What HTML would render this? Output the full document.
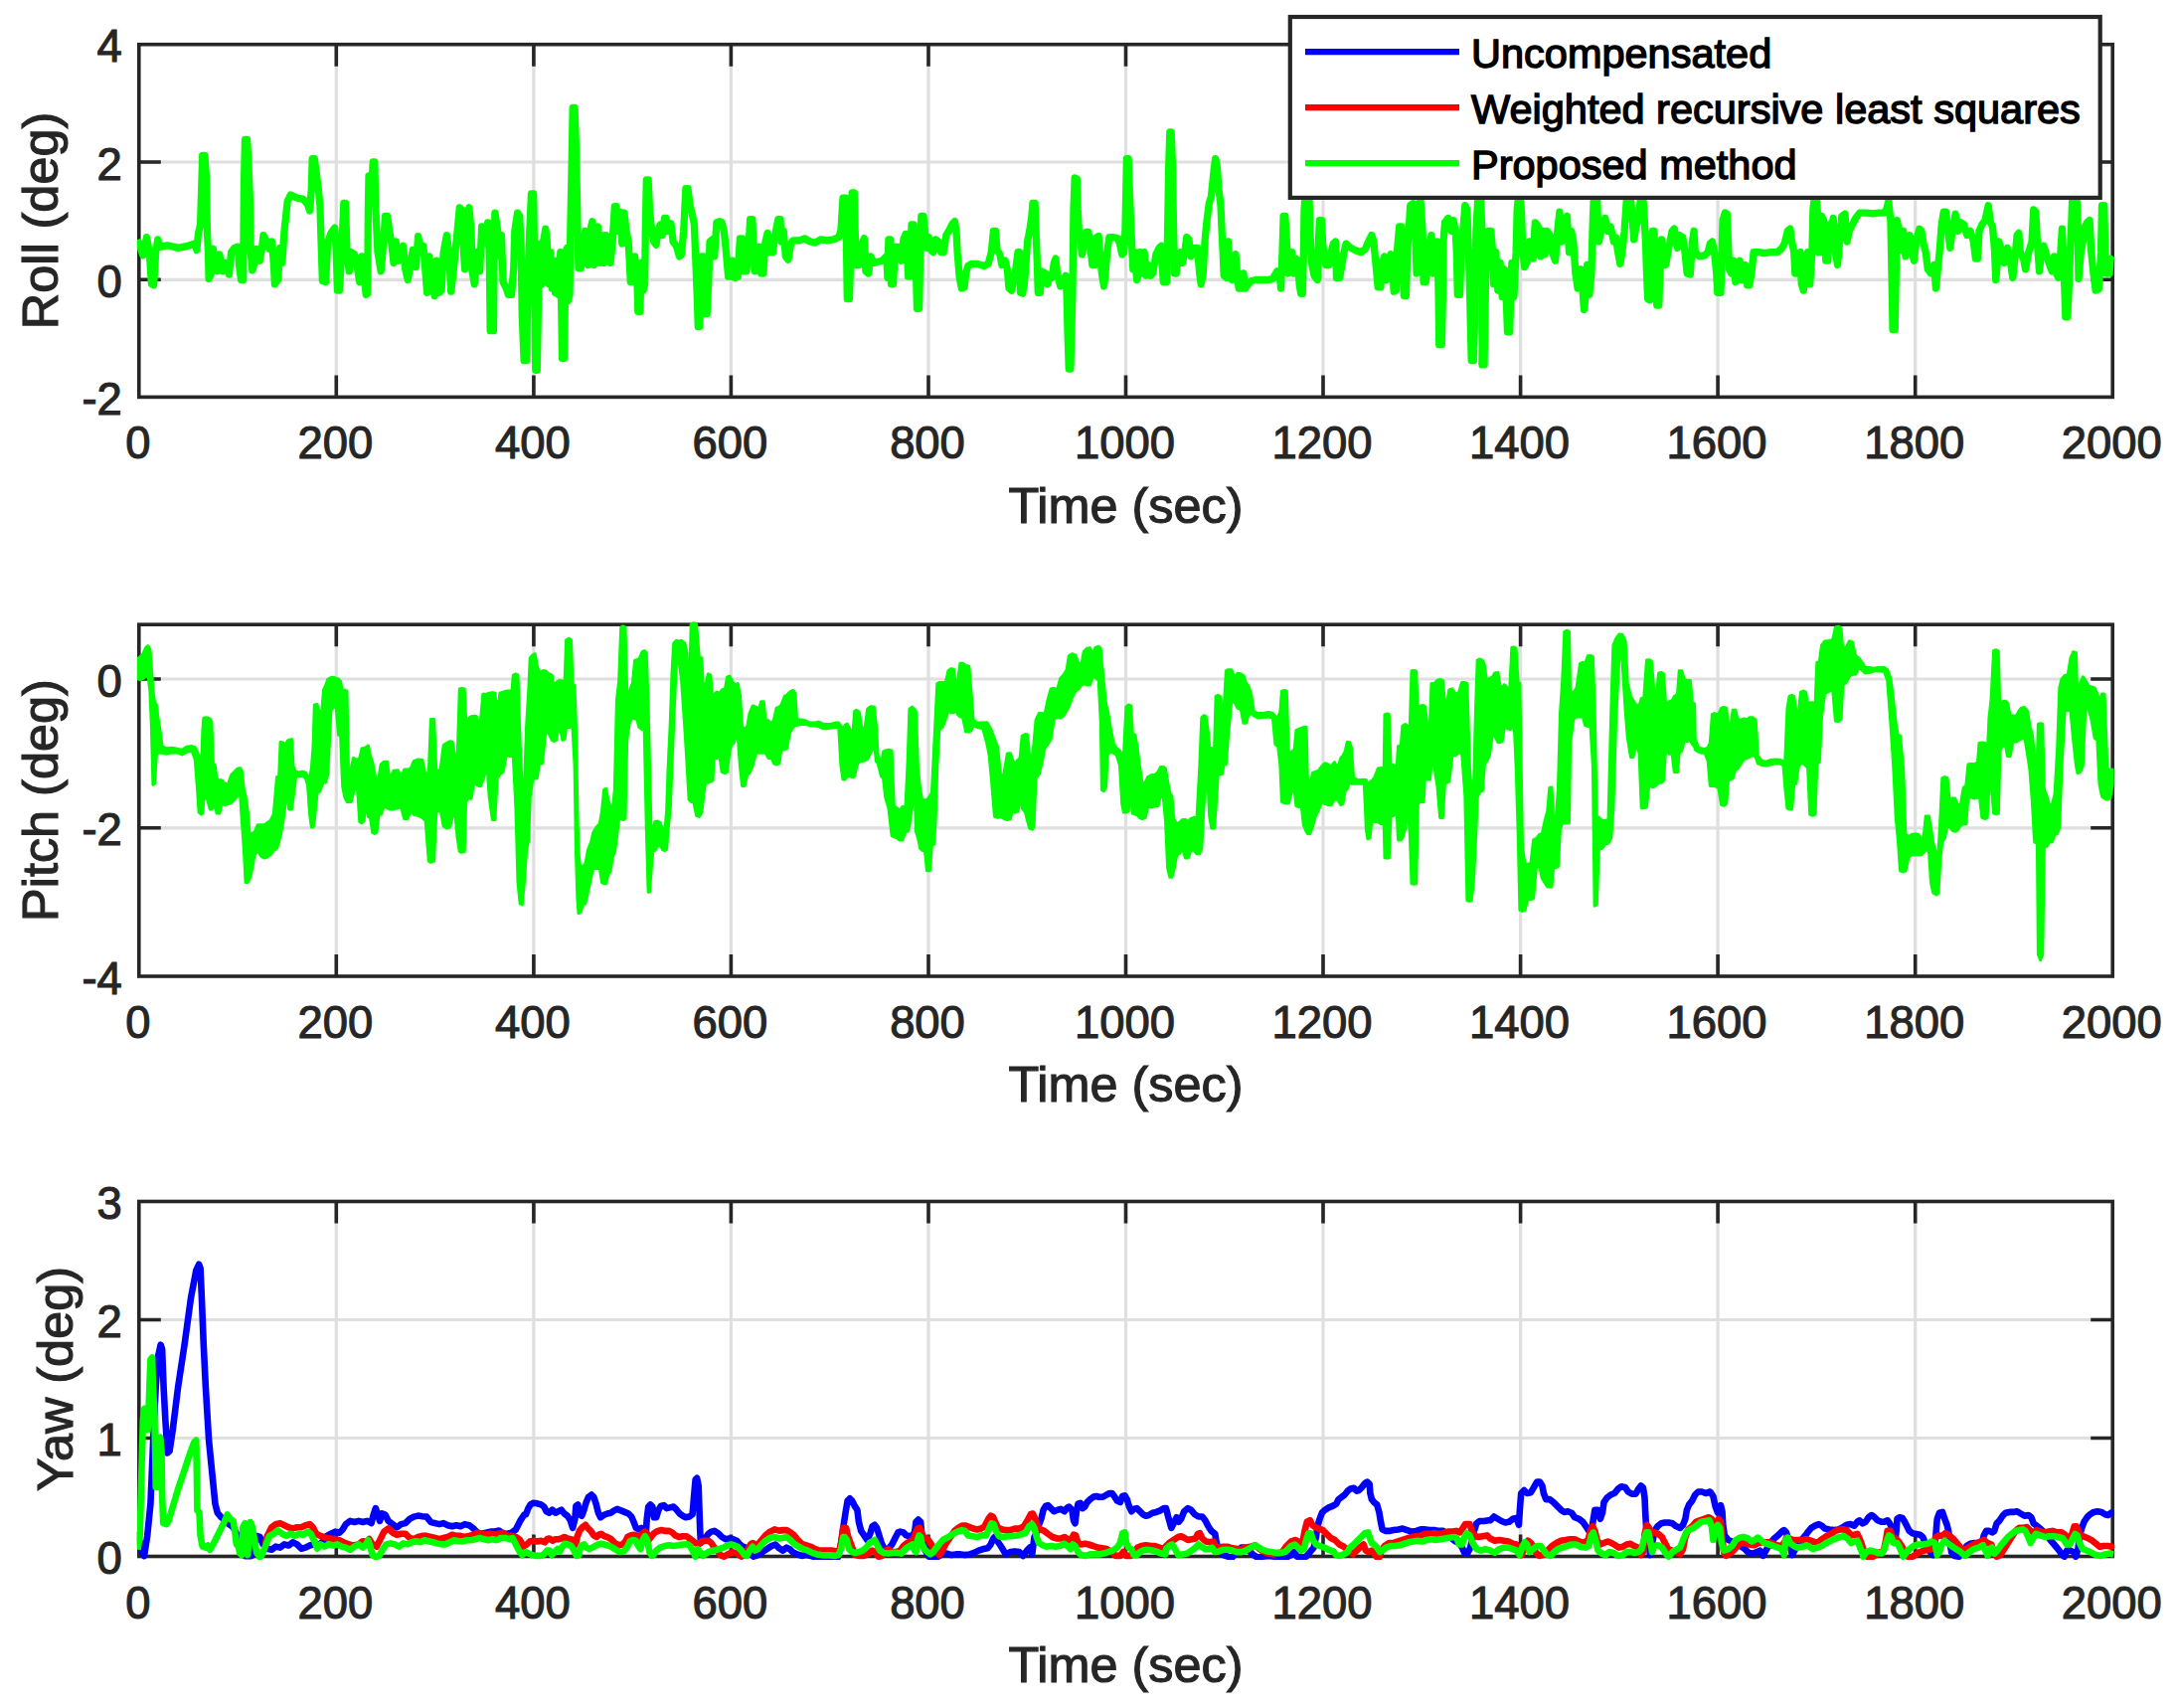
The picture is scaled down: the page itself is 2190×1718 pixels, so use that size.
<!DOCTYPE html><html><head><meta charset="utf-8"><title>Attitude errors</title>
<style>html,body{margin:0;padding:0;background:#fff}svg{display:block}text{font-family:"Liberation Sans",sans-serif;fill:#262626;stroke:#262626;stroke-width:1.1px}.tk{font-size:45.4px}.lb{font-size:50.4px}.lg{font-size:41.5px;fill:#000;stroke:#000;stroke-width:1.4px}</style></head><body>
<svg width="2190" height="1718" viewBox="0 0 2190 1718">
<rect width="2190" height="1718" fill="#fff"/>
<path d="M338.3,44.7 V399.4 M536.9,44.7 V399.4 M735.4,44.7 V399.4 M934.0,44.7 V399.4 M1132.5,44.7 V399.4 M1331.0,44.7 V399.4 M1529.6,44.7 V399.4 M1728.1,44.7 V399.4 M1926.7,44.7 V399.4 M139.8,163.0 H2125.2 M139.8,281.3 H2125.2" stroke="#dfdfdf" stroke-width="3.20" fill="none"/>
<path d="M338.3,399.4 v-22.0 M338.3,44.7 v22.0 M536.9,399.4 v-22.0 M536.9,44.7 v22.0 M735.4,399.4 v-22.0 M735.4,44.7 v22.0 M934.0,399.4 v-22.0 M934.0,44.7 v22.0 M1132.5,399.4 v-22.0 M1132.5,44.7 v22.0 M1331.0,399.4 v-22.0 M1331.0,44.7 v22.0 M1529.6,399.4 v-22.0 M1529.6,44.7 v22.0 M1728.1,399.4 v-22.0 M1728.1,44.7 v22.0 M1926.7,399.4 v-22.0 M1926.7,44.7 v22.0 M139.8,163.0 h22.0 M2125.2,163.0 h-22.0 M139.8,281.3 h22.0 M2125.2,281.3 h-22.0" stroke="#262626" stroke-width="3.60" fill="none"/>
<rect x="139.8" y="44.7" width="1985.4" height="354.7" fill="none" stroke="#262626" stroke-width="3.60"/>
<clipPath id="clip1"><rect x="137.8" y="41.2" width="1989.4" height="361.7"/></clipPath>
<g id="plot1" clip-path="url(#clip1)" fill="none" stroke-width="7.3" stroke-linejoin="round" stroke-linecap="butt">
<path d="M138.5,240.9 L143.9,256.9 L147.5,238.7 L150.3,253.7 L152.4,285.7 L154.6,286.8 L156.7,253.7 L158.8,240.9 L161.0,248.3 L168.5,246.8 L179.1,249.4 L187.7,247.7 L196.2,245.1 L197.9,251.5 L199.4,235.5 L201.6,225.9 L203.7,156.5 L205.9,156.5 L207.4,176.8 L208.4,232.3 L209.5,253.7 L210.1,280.4 L212.3,275.0 L214.4,250.5 L216.5,264.4 L218.7,272.9 L220.8,255.8 L224.0,272.9 L227.2,264.4 L230.4,276.1 L232.6,253.7 L235.8,249.4 L239.0,248.3 L241.1,270.8 L242.6,281.5 L244.7,281.5 L245.4,189.6 L246.5,140.4 L248.6,140.4 L250.1,168.2 L251.4,202.4 L252.2,253.7 L253.9,271.8 L256.1,264.4 L258.2,250.5 L261.4,262.2 L263.5,249.4 L265.0,236.6 L267.8,241.9 L271.0,250.5 L273.6,243.0 L275.3,264.4 L276.4,285.7 L279.6,281.5 L281.7,249.4 L283.8,264.4 L286.0,232.3 L289.2,202.4 L292.4,196.0 L298.8,199.2 L305.2,200.3 L309.5,205.6 L311.6,212.0 L313.3,189.6 L314.2,159.7 L316.3,159.7 L318.0,172.5 L320.2,189.6 L321.9,206.7 L323.4,253.7 L324.4,282.5 L327.6,283.6 L329.8,243.0 L333.0,234.4 L336.8,229.1 L338.3,253.7 L339.4,292.1 L341.5,292.1 L343.7,253.7 L345.8,204.5 L347.5,204.5 L349.0,253.7 L351.2,272.9 L353.3,253.7 L356.5,255.8 L359.7,270.8 L361.8,283.6 L364.0,257.9 L366.1,275.0 L368.2,296.4 L369.7,295.3 L370.4,210.9 L371.0,176.8 L373.6,189.6 L375.3,162.9 L376.8,162.9 L377.9,210.9 L380.0,253.7 L383.2,272.9 L385.3,249.4 L387.5,217.4 L389.6,217.4 L391.8,232.3 L393.9,245.1 L396.0,264.4 L398.2,243.0 L401.4,262.2 L405.6,247.3 L407.8,270.8 L410.3,281.5 L413.1,264.4 L415.3,251.5 L418.5,268.6 L420.6,237.6 L423.8,253.7 L425.9,247.3 L428.1,275.0 L429.6,294.3 L431.7,257.9 L434.5,275.0 L437.1,297.5 L439.2,262.2 L442.0,294.3 L444.1,292.1 L446.2,253.7 L449.4,236.6 L451.6,253.7 L453.7,293.2 L455.9,275.0 L458.0,253.7 L460.1,232.3 L462.3,208.8 L464.4,210.9 L466.5,253.7 L467.6,270.8 L469.7,217.4 L471.9,208.8 L474.0,232.3 L475.1,272.9 L477.2,285.7 L479.4,253.7 L482.6,272.9 L484.7,228.0 L487.9,245.1 L490.7,223.8 L492.2,253.7 L493.2,332.7 L496.5,332.7 L497.1,253.7 L497.9,214.1 L500.7,232.3 L502.9,257.9 L504.4,236.6 L506.1,283.6 L509.3,290.0 L511.4,296.4 L514.6,296.4 L516.8,268.6 L517.8,232.3 L520.6,214.1 L522.7,217.4 L524.2,253.7 L525.3,317.8 L527.1,362.6 L529.6,362.6 L531.1,275.0 L532.8,232.3 L534.5,194.9 L536.7,194.9 L537.5,253.7 L538.2,339.1 L538.8,372.3 L540.3,372.3 L541.4,307.1 L542.4,253.7 L543.5,245.1 L545.2,285.7 L546.7,243.0 L548.8,230.2 L550.3,243.0 L552.1,285.7 L553.8,253.7 L555.3,290.0 L556.8,264.4 L558.5,294.3 L560.2,262.2 L561.7,296.4 L563.8,253.7 L564.9,317.8 L565.5,360.5 L567.4,360.5 L568.3,307.1 L569.1,253.7 L570.4,249.4 L571.3,302.8 L573.0,296.4 L573.8,232.3 L575.1,168.2 L576.2,108.4 L578.1,108.4 L579.4,146.8 L580.3,189.6 L581.1,232.3 L582.0,269.7 L584.1,269.7 L586.2,253.7 L588.8,232.3 L591.6,266.5 L593.7,232.3 L595.9,222.7 L597.4,266.5 L599.5,232.3 L601.6,228.0 L603.3,264.4 L605.5,236.6 L607.6,264.4 L609.7,236.6 L611.9,253.7 L614.0,264.4 L616.2,243.0 L618.3,207.7 L620.0,207.7 L621.5,232.3 L623.6,213.1 L625.8,245.1 L627.9,214.1 L630.0,232.3 L632.2,243.0 L634.3,283.6 L636.5,283.6 L638.6,257.9 L640.7,275.0 L641.8,313.5 L643.9,313.5 L645.0,264.4 L647.1,292.1 L648.6,285.7 L649.3,232.3 L650.3,181.0 L652.1,181.0 L653.5,210.9 L655.7,232.3 L657.8,243.0 L660.0,246.2 L662.1,232.3 L664.2,225.9 L666.4,236.6 L668.5,219.5 L670.0,219.5 L671.7,232.3 L674.9,224.8 L677.1,243.0 L680.3,247.3 L683.5,257.9 L685.6,255.8 L687.7,232.3 L689.9,189.6 L692.0,189.6 L694.1,206.7 L696.3,215.2 L698.4,225.9 L699.5,253.7 L701.2,296.4 L702.3,328.5 L703.8,328.5 L704.8,296.4 L705.9,257.9 L707.6,257.9 L709.1,315.6 L711.2,315.6 L712.7,285.7 L714.0,243.0 L716.6,240.9 L718.7,257.9 L720.9,223.8 L724.1,222.7 L726.2,223.8 L728.3,232.3 L730.5,253.7 L732.6,278.2 L734.7,278.2 L736.9,262.2 L739.0,279.3 L742.2,278.2 L744.4,239.8 L746.5,239.8 L748.6,272.9 L750.8,272.9 L752.9,253.7 L754.6,220.6 L756.8,220.6 L758.2,253.7 L759.3,272.9 L761.5,248.3 L764.7,248.3 L765.7,275.0 L767.9,275.0 L770.0,243.0 L772.1,234.4 L774.3,253.7 L777.5,253.7 L779.6,236.6 L782.8,220.6 L785.0,220.6 L786.0,243.0 L788.2,232.3 L790.3,257.9 L792.9,261.2 L795.6,245.1 L797.8,241.9 L804.2,241.9 L809.5,239.8 L814.9,243.0 L820.2,244.1 L825.6,240.9 L832.0,241.9 L838.4,240.9 L843.7,238.7 L845.9,232.3 L848.0,199.2 L850.8,199.2 L851.6,253.7 L852.3,300.7 L854.4,300.7 L855.9,253.7 L857.2,193.8 L859.3,193.8 L860.2,232.3 L861.5,266.5 L864.0,266.5 L866.2,247.3 L869.4,239.8 L870.9,272.9 L873.6,275.0 L875.8,257.9 L879.0,264.4 L883.2,263.3 L887.5,262.2 L891.8,257.9 L892.9,279.3 L893.9,240.9 L895.6,240.9 L896.5,285.7 L898.6,285.7 L900.3,248.3 L904.6,248.3 L906.8,262.2 L908.9,240.9 L911.0,235.5 L912.7,255.8 L913.6,278.2 L915.7,278.2 L917.0,225.9 L919.1,225.9 L919.3,232.3 L921.0,253.7 L922.5,310.3 L924.6,310.3 L925.7,253.7 L926.8,217.4 L928.9,217.4 L930.4,232.3 L932.1,249.4 L934.2,238.7 L936.4,251.5 L938.9,253.7 L941.1,240.9 L943.8,243.0 L946.6,253.7 L949.2,253.7 L951.8,236.6 L954.5,232.3 L957.7,225.9 L960.3,222.7 L962.0,232.3 L963.1,253.7 L965.2,279.3 L967.4,290.0 L970.1,288.9 L971.6,275.0 L973.8,267.6 L977.0,265.4 L983.4,265.4 L989.8,267.6 L994.1,265.4 L997.3,253.7 L999.4,232.3 L1001.5,232.3 L1003.0,251.5 L1005.8,255.8 L1007.9,266.5 L1011.2,262.2 L1013.3,270.8 L1015.0,290.0 L1017.6,292.1 L1019.7,281.5 L1021.8,270.8 L1024.0,253.7 L1025.5,253.7 L1026.5,294.3 L1028.7,295.3 L1030.4,285.7 L1032.1,264.4 L1033.6,243.0 L1035.7,232.3 L1037.9,217.4 L1038.9,204.5 L1041.1,204.5 L1042.1,232.3 L1043.2,260.1 L1044.3,294.3 L1046.4,294.3 L1047.9,272.9 L1051.8,275.0 L1053.9,285.7 L1056.0,277.2 L1058.2,279.3 L1060.3,264.4 L1062.0,260.1 L1063.5,275.0 L1066.7,287.9 L1069.9,281.5 L1072.1,277.2 L1073.1,296.4 L1074.2,339.1 L1075.3,371.2 L1076.8,371.2 L1077.8,339.1 L1078.9,296.4 L1080.0,210.9 L1081.2,178.9 L1083.4,180.0 L1084.2,210.9 L1085.3,232.3 L1087.0,243.0 L1088.5,255.8 L1090.6,245.1 L1092.8,233.4 L1094.9,233.4 L1096.6,245.1 L1098.8,266.5 L1101.3,266.5 L1103.0,238.7 L1105.2,237.6 L1106.2,253.7 L1108.4,275.0 L1110.5,287.9 L1112.0,275.0 L1113.7,253.7 L1115.9,238.7 L1120.1,238.7 L1124.4,239.8 L1126.5,245.1 L1128.7,255.8 L1130.8,253.7 L1131.9,232.3 L1133.4,159.7 L1135.1,159.7 L1136.2,189.6 L1137.2,215.2 L1138.3,240.9 L1139.8,270.8 L1141.5,253.7 L1143.6,281.5 L1145.8,275.0 L1146.8,253.7 L1149.0,275.0 L1151.1,253.7 L1153.2,277.2 L1155.4,266.5 L1157.5,277.2 L1159.7,275.0 L1162.9,255.8 L1166.1,249.4 L1168.2,247.3 L1170.3,283.6 L1173.5,283.6 L1174.6,232.3 L1175.7,168.2 L1176.8,132.9 L1178.2,132.9 L1179.5,168.2 L1180.6,232.3 L1181.5,275.0 L1183.2,275.0 L1185.3,257.9 L1187.4,253.7 L1189.6,264.4 L1191.7,253.7 L1193.8,238.7 L1196.0,240.9 L1198.1,257.9 L1201.3,249.4 L1204.5,249.4 L1206.7,275.0 L1208.2,285.7 L1210.3,275.0 L1212.0,243.0 L1214.1,221.6 L1216.3,204.5 L1218.4,198.1 L1221.0,172.5 L1222.7,159.7 L1224.4,168.2 L1225.9,189.6 L1228.0,206.7 L1229.1,232.3 L1230.2,253.7 L1231.2,277.2 L1233.8,279.3 L1235.5,243.0 L1237.2,279.3 L1239.4,281.5 L1241.5,260.1 L1243.0,255.8 L1244.5,275.0 L1246.2,290.0 L1249.4,290.0 L1250.9,275.0 L1252.6,290.0 L1255.8,285.7 L1259.0,282.5 L1263.3,281.5 L1269.7,281.5 L1276.1,281.5 L1280.4,280.4 L1284.7,272.9 L1287.2,275.0 L1288.5,290.0 L1290.0,253.7 L1291.1,217.4 L1292.8,217.4 L1294.3,243.0 L1295.8,275.0 L1297.5,253.7 L1299.6,253.7 L1301.8,275.0 L1303.5,260.1 L1305.6,262.2 L1307.1,285.7 L1308.6,295.3 L1310.3,295.3 L1311.4,253.7 L1312.0,210.9 L1313.5,189.6 L1316.8,189.6 L1317.8,232.3 L1319.5,264.4 L1322.1,277.2 L1325.3,281.5 L1326.4,243.0 L1327.4,221.6 L1329.6,221.6 L1330.6,245.1 L1333.8,266.5 L1337.1,266.5 L1339.2,253.7 L1341.3,245.1 L1343.5,243.0 L1344.5,279.3 L1347.7,279.3 L1349.9,266.5 L1352.0,253.7 L1354.1,245.1 L1357.4,248.3 L1362.7,251.5 L1369.1,253.7 L1373.4,250.5 L1376.6,243.0 L1379.8,236.6 L1381.9,243.0 L1384.1,266.5 L1386.2,288.9 L1388.8,288.9 L1390.5,264.4 L1392.6,257.9 L1394.7,281.5 L1396.9,264.4 L1399.0,255.8 L1401.2,275.0 L1402.2,293.2 L1404.4,292.1 L1405.4,253.7 L1407.6,228.0 L1409.7,228.0 L1410.8,253.7 L1412.3,297.5 L1414.4,297.5 L1415.7,253.7 L1417.2,232.3 L1418.7,206.7 L1421.5,204.5 L1423.6,232.3 L1425.1,275.0 L1426.8,206.7 L1428.9,200.3 L1431.1,232.3 L1432.1,283.6 L1434.3,283.6 L1436.4,264.4 L1438.5,243.0 L1440.0,236.6 L1441.8,275.0 L1443.9,253.7 L1446.0,243.0 L1447.1,296.4 L1447.7,346.6 L1450.3,346.6 L1451.4,296.4 L1452.0,243.0 L1453.5,223.8 L1456.7,219.5 L1459.9,232.3 L1462.1,221.6 L1464.2,232.3 L1465.3,253.7 L1466.3,296.4 L1468.5,296.4 L1470.0,253.7 L1471.7,232.3 L1473.8,206.7 L1475.9,210.9 L1477.0,243.0 L1478.1,275.0 L1479.1,317.8 L1480.2,362.6 L1482.4,362.6 L1483.6,317.8 L1484.9,232.3 L1486.6,202.4 L1489.2,189.6 L1490.9,232.3 L1491.5,296.4 L1490.9,366.9 L1493.0,366.9 L1494.1,307.1 L1495.2,253.7 L1497.3,232.3 L1499.9,232.3 L1501.6,253.7 L1502.6,285.7 L1504.8,253.7 L1506.9,292.1 L1509.1,264.4 L1511.2,298.5 L1513.3,270.8 L1515.5,307.1 L1516.5,333.8 L1518.7,333.8 L1519.7,296.4 L1520.8,264.4 L1522.9,298.5 L1525.1,253.7 L1526.2,210.9 L1528.3,189.6 L1530.4,210.9 L1531.9,253.7 L1533.6,268.6 L1536.8,262.2 L1539.0,243.0 L1542.2,260.1 L1544.3,223.8 L1547.5,228.0 L1549.7,257.9 L1551.8,232.3 L1553.9,255.8 L1556.1,232.3 L1559.3,236.6 L1561.4,253.7 L1564.6,262.2 L1566.8,232.3 L1568.9,213.1 L1571.0,243.0 L1573.8,221.6 L1576.4,217.4 L1578.5,253.7 L1580.6,232.3 L1582.8,243.0 L1584.9,275.0 L1587.1,290.0 L1590.3,270.8 L1592.4,296.4 L1593.5,311.4 L1595.2,296.4 L1596.7,266.5 L1598.8,296.4 L1600.9,275.0 L1602.0,232.3 L1603.1,202.4 L1606.3,189.6 L1607.4,221.6 L1608.4,243.0 L1611.6,228.0 L1614.8,219.5 L1617.0,232.3 L1620.2,228.0 L1623.4,243.0 L1625.5,238.7 L1627.6,253.7 L1629.8,265.4 L1631.9,253.7 L1634.1,232.3 L1636.2,202.4 L1639.4,189.6 L1641.5,210.9 L1643.7,240.9 L1645.8,228.0 L1647.9,221.6 L1650.1,202.4 L1652.2,189.6 L1653.7,210.9 L1655.4,243.0 L1656.5,275.0 L1657.6,300.7 L1659.7,301.8 L1660.8,275.0 L1662.3,232.3 L1664.0,232.3 L1665.7,275.0 L1666.8,307.1 L1668.7,307.1 L1670.0,275.0 L1671.5,240.9 L1673.6,253.7 L1675.7,266.5 L1677.9,253.7 L1680.0,243.0 L1682.1,232.3 L1684.3,230.2 L1687.5,249.4 L1689.6,236.6 L1692.8,238.7 L1695.0,253.7 L1697.1,275.0 L1700.3,276.1 L1702.4,243.0 L1704.1,232.3 L1705.3,253.7 L1709.6,257.9 L1715.0,256.9 L1718.2,253.7 L1720.3,245.1 L1722.4,243.0 L1724.6,253.7 L1726.7,275.0 L1727.8,294.3 L1731.0,294.3 L1732.1,253.7 L1733.1,221.6 L1735.3,214.1 L1737.4,215.2 L1738.5,243.0 L1739.5,270.8 L1741.7,275.0 L1743.8,262.2 L1745.9,283.6 L1748.1,266.5 L1750.2,262.2 L1752.4,281.5 L1755.6,266.5 L1757.7,286.8 L1759.8,286.8 L1762.0,275.0 L1764.1,253.7 L1769.4,253.7 L1774.8,254.7 L1781.2,253.7 L1787.6,253.7 L1791.9,250.5 L1795.1,245.1 L1798.3,232.3 L1800.9,230.2 L1802.6,243.0 L1804.7,253.7 L1805.8,275.0 L1809.0,275.0 L1811.1,253.7 L1812.2,285.7 L1814.3,292.1 L1816.5,264.4 L1818.6,253.7 L1820.7,285.7 L1822.9,253.7 L1823.9,210.9 L1826.1,189.6 L1828.2,210.9 L1829.3,253.7 L1831.4,253.7 L1832.5,217.4 L1834.6,221.6 L1836.8,262.2 L1838.9,262.2 L1840.0,225.9 L1842.1,232.3 L1844.2,219.5 L1846.4,253.7 L1848.5,266.5 L1850.6,243.0 L1852.8,217.4 L1856.0,215.2 L1858.1,243.0 L1860.3,232.3 L1863.5,225.9 L1866.7,219.5 L1870.9,214.1 L1877.4,214.1 L1883.8,214.8 L1890.2,214.1 L1895.5,214.1 L1897.6,210.9 L1899.8,202.4 L1901.9,221.6 L1903.0,275.0 L1904.1,331.7 L1906.2,331.7 L1907.3,275.0 L1908.3,221.6 L1910.5,232.3 L1912.6,251.5 L1914.7,232.3 L1916.9,257.9 L1919.0,253.7 L1921.2,236.6 L1923.3,253.7 L1925.4,262.2 L1927.6,243.0 L1930.8,230.2 L1932.9,232.3 L1935.0,245.1 L1937.2,253.7 L1939.3,270.8 L1942.5,275.0 L1945.7,266.5 L1947.4,290.0 L1948.9,275.0 L1951.1,253.7 L1953.2,225.9 L1955.3,213.1 L1957.5,213.1 L1959.6,232.3 L1961.8,249.4 L1963.9,232.3 L1967.1,215.2 L1969.7,232.3 L1972.4,223.8 L1975.6,225.9 L1978.8,236.6 L1982.1,232.3 L1985.3,243.0 L1987.4,260.1 L1989.5,260.1 L1991.0,232.3 L1993.8,225.9 L1997.0,221.6 L2000.2,206.7 L2002.4,223.8 L2004.5,228.0 L2006.6,253.7 L2007.7,281.5 L2009.4,264.4 L2010.9,243.0 L2014.1,253.7 L2016.2,264.4 L2019.4,249.4 L2022.6,264.4 L2024.8,279.3 L2026.9,260.1 L2029.1,236.6 L2030.8,234.4 L2032.3,253.7 L2035.5,260.1 L2037.6,270.8 L2040.8,253.7 L2044.0,243.0 L2045.7,210.9 L2047.9,213.1 L2049.4,243.0 L2051.5,272.9 L2053.6,253.7 L2055.8,247.3 L2057.9,253.7 L2061.1,264.4 L2064.3,272.9 L2066.5,257.9 L2068.6,275.0 L2070.7,279.3 L2072.9,253.7 L2074.4,230.2 L2075.6,253.7 L2077.1,296.4 L2077.8,318.8 L2079.9,318.8 L2081.4,285.7 L2083.5,232.3 L2084.6,202.4 L2087.8,189.6 L2090.0,210.9 L2091.0,280.4 L2093.2,253.7 L2095.3,243.0 L2097.4,228.0 L2099.6,223.8 L2102.1,221.6 L2103.8,253.7 L2106.0,275.0 L2108.1,292.1 L2111.3,291.1 L2113.5,253.7 L2114.5,206.7 L2116.7,206.7 L2117.7,253.7 L2118.8,275.0 L2122.0,275.0 L2123.1,260.1 L2124.8,262.2" stroke="#00ff00"/>
</g>
<text class="tk" x="138.8" y="461.4" text-anchor="middle">0</text>
<text class="tk" x="337.3" y="461.4" text-anchor="middle">200</text>
<text class="tk" x="535.9" y="461.4" text-anchor="middle">400</text>
<text class="tk" x="734.4" y="461.4" text-anchor="middle">600</text>
<text class="tk" x="933.0" y="461.4" text-anchor="middle">800</text>
<text class="tk" x="1131.5" y="461.4" text-anchor="middle">1000</text>
<text class="tk" x="1330.0" y="461.4" text-anchor="middle">1200</text>
<text class="tk" x="1528.6" y="461.4" text-anchor="middle">1400</text>
<text class="tk" x="1727.1" y="461.4" text-anchor="middle">1600</text>
<text class="tk" x="1925.7" y="461.4" text-anchor="middle">1800</text>
<text class="tk" x="2124.2" y="461.4" text-anchor="middle">2000</text>
<text class="tk" x="122.8" y="62.3" text-anchor="end">4</text>
<text class="tk" x="122.8" y="180.6" text-anchor="end">2</text>
<text class="tk" x="122.8" y="298.9" text-anchor="end">0</text>
<text class="tk" x="122.8" y="417.0" text-anchor="end">-2</text>
<text class="lb" x="1132.5" y="525.8" text-anchor="middle">Time (sec)</text>
<text class="lb" transform="translate(58.4,222.0) rotate(-90)" text-anchor="middle">Roll (deg)</text>
<path d="M338.3,628.2 V982.0 M536.9,628.2 V982.0 M735.4,628.2 V982.0 M934.0,628.2 V982.0 M1132.5,628.2 V982.0 M1331.0,628.2 V982.0 M1529.6,628.2 V982.0 M1728.1,628.2 V982.0 M1926.7,628.2 V982.0 M139.8,683.0 H2125.2 M139.8,832.8 H2125.2" stroke="#dfdfdf" stroke-width="3.20" fill="none"/>
<path d="M338.3,982.0 v-22.0 M338.3,628.2 v22.0 M536.9,982.0 v-22.0 M536.9,628.2 v22.0 M735.4,982.0 v-22.0 M735.4,628.2 v22.0 M934.0,982.0 v-22.0 M934.0,628.2 v22.0 M1132.5,982.0 v-22.0 M1132.5,628.2 v22.0 M1331.0,982.0 v-22.0 M1331.0,628.2 v22.0 M1529.6,982.0 v-22.0 M1529.6,628.2 v22.0 M1728.1,982.0 v-22.0 M1728.1,628.2 v22.0 M1926.7,982.0 v-22.0 M1926.7,628.2 v22.0 M139.8,683.0 h22.0 M2125.2,683.0 h-22.0 M139.8,832.8 h22.0 M2125.2,832.8 h-22.0" stroke="#262626" stroke-width="3.60" fill="none"/>
<rect x="139.8" y="628.2" width="1985.4" height="353.8" fill="none" stroke="#262626" stroke-width="3.60"/>
<clipPath id="clip2"><rect x="137.8" y="624.7" width="1989.4" height="360.8"/></clipPath>
<g id="plot2" clip-path="url(#clip2)" fill="none" stroke-width="6.25" stroke-linejoin="round" stroke-linecap="butt">
<path d="M138.1,663.0 L140.7,660.9 L143.9,657.7 L146.7,651.3 L148.8,649.6 L150.9,653.4 L152.4,672.6 L153.9,694.0 L155.6,706.8 L157.4,709.0 L158.8,720.7 L161.0,734.6 L163.1,750.6 L167.4,752.8 L172.7,752.3 L179.1,753.4 L183.4,754.3 L187.7,751.3 L193.0,750.6 L196.2,751.7 L198.4,756.0 L200.1,760.3 L202.6,768.8 L203.9,734.6 L204.8,722.2 L208.0,721.8 L211.2,722.9 L212.9,726.1 L214.4,766.7 L216.5,770.9 L218.0,783.8 L220.8,784.8 L222.9,784.8 L226.2,788.0 L229.4,789.1 L232.6,779.5 L235.8,776.3 L239.0,773.1 L241.5,772.6 L243.2,775.2 L245.4,794.4 L247.1,800.9 L249.2,815.8 L251.8,847.9 L253.9,838.2 L256.1,837.2 L259.3,829.7 L262.5,829.7 L265.7,829.7 L268.9,827.6 L272.1,825.4 L275.3,819.0 L278.5,781.6 L280.6,781.6 L282.1,746.4 L284.9,747.0 L287.1,749.6 L289.2,745.3 L290.7,744.2 L293.5,743.6 L295.0,770.9 L297.7,776.3 L300.9,776.9 L304.1,776.3 L307.4,777.3 L309.5,780.6 L311.6,781.6 L313.3,773.1 L315.0,751.7 L316.3,709.0 L319.1,708.5 L321.9,720.7 L324.0,713.2 L325.5,694.0 L327.6,689.7 L329.8,683.3 L333.0,681.6 L336.2,681.6 L338.3,682.3 L340.5,682.9 L342.6,685.5 L344.7,697.2 L346.9,694.0 L349.0,695.1 L350.5,773.1 L353.3,773.1 L355.4,762.4 L357.6,763.5 L359.7,764.5 L361.8,762.4 L364.0,752.8 L366.1,752.8 L368.2,751.7 L370.4,750.0 L372.5,760.3 L374.7,766.7 L376.8,777.3 L378.9,788.0 L381.1,781.6 L383.2,768.8 L386.4,766.2 L389.6,766.2 L391.8,783.8 L396.0,775.2 L400.3,774.8 L403.5,781.6 L406.7,774.1 L409.9,774.1 L413.1,773.1 L416.3,765.6 L420.6,763.9 L424.9,764.5 L428.1,779.5 L431.3,777.3 L433.4,723.5 L436.6,723.5 L438.8,775.2 L443.0,774.8 L446.2,749.6 L449.4,747.4 L452.6,745.7 L455.2,746.4 L458.0,762.4 L460.1,764.5 L462.3,692.9 L464.4,692.5 L467.2,692.9 L468.7,726.1 L470.8,722.9 L474.0,720.7 L477.2,720.1 L479.4,720.7 L481.5,730.3 L483.6,723.9 L485.8,698.3 L490.0,697.9 L492.2,697.2 L495.4,696.6 L497.9,697.2 L500.1,717.5 L502.9,697.2 L506.1,696.1 L509.3,695.1 L512.5,695.1 L514.6,698.3 L516.3,679.1 L518.9,678.0 L521.0,679.1 L523.2,747.4 L525.3,794.4 L527.4,794.4 L529.6,730.3 L531.8,694.0 L533.2,662.0 L536.0,658.8 L538.2,657.7 L540.3,669.4 L542.4,676.9 L545.6,674.8 L548.8,674.8 L552.1,678.0 L555.3,679.1 L557.4,696.1 L559.5,686.5 L562.7,684.4 L565.9,685.0 L568.1,685.5 L569.6,643.8 L572.4,642.3 L574.5,643.8 L576.0,687.6 L578.1,689.7 L579.4,730.3 L580.9,815.8 L582.0,858.5 L584.1,875.6 L586.2,871.4 L588.8,869.2 L591.6,854.3 L594.4,847.9 L596.9,837.2 L600.1,831.8 L603.3,828.6 L605.5,815.8 L607.6,794.4 L609.7,793.4 L611.9,805.1 L614.0,811.5 L616.2,815.8 L618.3,794.4 L620.4,704.7 L622.6,685.5 L624.7,631.0 L626.8,629.9 L629.0,631.0 L630.7,696.1 L633.2,695.7 L636.5,686.5 L638.6,664.1 L640.7,663.7 L642.9,663.0 L646.1,655.6 L648.2,654.5 L650.3,656.6 L652.1,709.0 L653.5,768.8 L655.0,835.0 L656.8,834.0 L658.9,826.5 L661.5,826.1 L664.2,827.6 L666.4,834.0 L668.9,835.0 L670.6,815.8 L672.1,773.1 L674.3,726.1 L676.0,676.9 L677.7,647.0 L680.3,644.4 L683.5,644.9 L685.6,644.4 L688.8,647.0 L690.9,655.6 L693.1,709.0 L695.2,627.8 L697.8,626.7 L700.6,627.8 L703.3,660.9 L705.9,662.0 L708.0,702.6 L710.2,687.6 L712.3,678.0 L714.9,679.1 L717.0,709.0 L718.7,698.3 L720.9,696.1 L724.1,697.2 L726.2,694.0 L729.4,692.9 L731.5,681.2 L733.7,680.1 L735.8,683.3 L737.9,687.6 L740.1,688.7 L742.2,687.6 L744.4,698.3 L746.5,730.3 L749.1,734.6 L751.8,730.3 L754.0,717.5 L757.2,710.0 L760.4,711.1 L763.6,713.2 L765.7,705.8 L768.3,705.8 L770.0,723.9 L773.2,725.0 L776.4,728.2 L778.5,723.9 L781.1,712.2 L783.9,711.1 L786.0,709.0 L789.2,700.4 L791.4,699.4 L794.6,696.1 L797.8,694.4 L799.9,697.2 L801.6,723.9 L806.3,723.9 L810.6,725.0 L814.9,727.1 L819.1,727.1 L823.4,726.1 L827.7,728.2 L832.0,728.6 L836.2,728.2 L840.5,727.1 L843.7,727.1 L845.9,730.3 L848.0,734.6 L850.1,729.3 L852.3,728.2 L855.5,734.6 L858.0,736.7 L859.7,715.4 L861.9,714.3 L864.4,716.4 L867.2,734.6 L870.4,730.3 L872.6,713.2 L875.8,710.7 L879.4,711.1 L881.5,730.3 L883.2,760.3 L886.5,768.8 L888.6,756.0 L890.7,754.9 L893.9,754.3 L897.1,754.9 L899.3,811.5 L902.5,812.6 L904.6,815.8 L907.8,811.5 L911.0,811.5 L913.2,764.5 L914.9,713.2 L917.4,711.1 L919.6,713.2 L921.4,715.4 L923.5,773.1 L925.7,794.4 L927.8,805.1 L930.4,804.7 L932.5,804.7 L935.3,800.9 L937.4,797.6 L939.6,751.7 L941.1,721.8 L942.8,687.6 L944.9,686.5 L948.1,686.5 L951.3,686.5 L953.9,674.8 L956.7,672.6 L959.4,673.1 L961.6,691.9 L963.7,683.3 L965.9,667.3 L968.4,667.3 L971.6,669.4 L974.8,670.1 L977.0,696.1 L979.1,723.9 L983.4,727.1 L988.7,727.1 L993.0,726.7 L995.1,730.3 L997.3,734.6 L1000.5,743.2 L1003.7,751.7 L1006.9,783.8 L1010.1,777.3 L1013.3,758.1 L1016.5,757.7 L1018.6,764.5 L1020.8,768.8 L1024.0,764.5 L1026.1,762.4 L1028.2,740.0 L1031.5,738.5 L1033.6,738.9 L1035.7,760.3 L1038.5,760.3 L1040.0,747.4 L1042.1,723.9 L1045.3,717.5 L1048.5,717.5 L1050.7,719.7 L1053.9,704.7 L1057.1,692.9 L1060.3,692.3 L1063.5,694.0 L1066.7,682.3 L1069.9,679.1 L1073.1,673.7 L1075.3,659.8 L1078.5,657.7 L1081.7,658.8 L1084.9,667.3 L1088.1,667.3 L1090.2,655.6 L1093.4,652.3 L1096.6,651.7 L1099.2,659.8 L1102.0,651.3 L1105.2,650.2 L1107.3,652.3 L1108.4,666.2 L1110.5,687.6 L1112.6,709.0 L1114.1,713.2 L1116.9,730.3 L1120.1,747.4 L1123.3,752.8 L1126.5,754.9 L1128.7,759.2 L1130.4,760.3 L1132.9,711.1 L1135.1,709.0 L1137.6,710.0 L1139.4,738.9 L1141.9,738.9 L1144.1,751.7 L1146.2,768.8 L1149.0,788.0 L1152.2,787.0 L1154.7,781.6 L1158.6,779.5 L1161.8,779.5 L1165.0,776.3 L1167.6,771.6 L1170.3,771.4 L1172.5,773.1 L1174.6,785.9 L1176.8,797.6 L1178.9,800.9 L1181.0,824.4 L1183.8,828.6 L1186.4,827.6 L1189.6,824.4 L1192.4,824.4 L1195.3,826.5 L1198.1,823.3 L1201.3,822.2 L1203.9,824.4 L1206.7,773.1 L1208.8,721.8 L1210.9,719.7 L1213.1,720.7 L1215.2,734.6 L1216.7,751.7 L1218.8,752.8 L1221.6,752.8 L1223.1,700.4 L1225.3,699.4 L1227.4,700.4 L1229.5,715.4 L1231.2,713.2 L1233.4,674.8 L1235.5,673.7 L1238.7,673.7 L1241.9,681.2 L1245.1,677.3 L1248.3,678.0 L1250.9,679.5 L1253.7,687.6 L1255.8,689.7 L1258.6,698.3 L1261.2,715.4 L1265.4,717.5 L1270.8,717.5 L1276.1,716.4 L1280.4,717.5 L1282.9,720.7 L1285.7,721.8 L1287.9,715.4 L1289.4,695.1 L1292.1,694.4 L1294.3,695.1 L1296.4,760.3 L1299.6,756.0 L1302.2,753.8 L1303.9,734.6 L1306.5,733.5 L1309.2,732.5 L1311.4,731.4 L1314.1,731.4 L1315.3,781.6 L1317.8,792.3 L1320.4,777.3 L1323.2,776.3 L1326.4,775.2 L1329.6,770.9 L1332.8,767.7 L1336.0,768.8 L1339.2,770.9 L1342.4,766.7 L1345.6,773.1 L1348.8,762.4 L1350.9,760.3 L1353.1,756.0 L1355.2,746.4 L1357.4,746.4 L1359.5,751.7 L1361.6,782.7 L1367.0,784.8 L1372.3,784.2 L1374.4,784.8 L1375.9,792.3 L1378.1,785.9 L1379.8,785.9 L1383.0,781.6 L1386.2,773.1 L1389.4,772.6 L1392.2,773.1 L1393.0,718.6 L1395.8,717.9 L1397.3,718.6 L1399.0,768.8 L1402.2,769.9 L1405.0,773.1 L1406.5,750.6 L1409.3,749.6 L1410.8,730.3 L1413.5,728.6 L1416.1,730.3 L1418.2,734.6 L1420.0,674.8 L1422.5,674.4 L1424.7,675.2 L1426.4,717.5 L1428.9,710.0 L1432.1,709.4 L1433.6,711.1 L1435.8,728.2 L1438.5,726.1 L1440.0,687.6 L1442.8,687.6 L1446.0,684.4 L1448.6,683.3 L1451.4,684.4 L1453.5,707.9 L1455.6,706.8 L1457.8,694.0 L1461.0,692.9 L1464.2,698.3 L1467.4,697.2 L1470.6,686.5 L1473.8,686.5 L1475.9,687.6 L1478.5,773.1 L1480.2,794.4 L1482.4,795.5 L1484.5,713.2 L1486.2,664.1 L1488.8,663.0 L1491.3,664.1 L1493.5,669.4 L1495.6,685.5 L1498.4,682.3 L1501.2,681.2 L1503.7,676.9 L1506.9,676.5 L1509.1,689.7 L1511.2,691.9 L1513.3,688.7 L1516.5,691.9 L1518.7,695.1 L1520.8,651.3 L1523.4,650.9 L1525.1,652.3 L1527.2,687.6 L1528.9,687.6 L1531.5,852.1 L1534.1,869.2 L1536.8,869.2 L1540.0,868.2 L1542.6,844.7 L1545.4,843.6 L1548.6,839.3 L1551.2,839.3 L1553.9,826.5 L1556.7,815.8 L1558.8,792.3 L1561.0,791.9 L1562.5,822.2 L1565.3,822.2 L1567.4,794.4 L1569.5,717.5 L1571.7,685.5 L1573.8,635.3 L1576.4,634.2 L1578.5,635.3 L1579.6,696.1 L1582.8,697.2 L1586.0,691.9 L1589.6,667.3 L1592.4,666.2 L1594.5,668.4 L1597.3,659.8 L1599.9,659.4 L1602.4,660.9 L1604.1,709.0 L1606.3,824.4 L1608.4,822.2 L1611.6,825.4 L1614.8,825.4 L1618.0,824.4 L1620.8,713.2 L1622.9,649.1 L1625.5,642.7 L1628.7,638.0 L1631.9,638.5 L1635.1,644.9 L1637.3,687.6 L1640.5,700.4 L1643.0,704.7 L1645.8,709.0 L1649.0,710.0 L1651.2,702.6 L1653.7,702.6 L1656.5,664.1 L1659.3,663.7 L1661.4,665.2 L1664.0,697.2 L1666.5,697.2 L1668.7,676.9 L1671.5,676.5 L1673.6,678.0 L1675.7,709.0 L1678.9,705.8 L1682.1,704.7 L1684.3,700.4 L1687.5,698.3 L1689.2,674.8 L1691.8,674.8 L1694.3,683.3 L1697.1,684.4 L1700.3,684.4 L1702.4,706.8 L1704.6,707.9 L1705.3,743.2 L1708.5,751.7 L1711.8,752.8 L1715.0,753.8 L1718.2,751.7 L1720.3,747.4 L1722.4,718.6 L1724.6,717.5 L1726.7,718.6 L1728.8,718.6 L1731.6,712.2 L1734.2,711.5 L1736.8,712.2 L1738.5,730.3 L1741.0,730.3 L1743.2,714.3 L1745.9,714.3 L1748.1,723.9 L1751.3,723.9 L1754.5,722.9 L1757.7,723.9 L1759.8,721.8 L1763.0,721.8 L1766.2,723.9 L1768.4,760.3 L1772.6,765.6 L1776.9,766.2 L1781.2,764.5 L1786.5,763.9 L1790.8,764.5 L1794.0,765.6 L1795.7,766.7 L1797.9,713.2 L1800.0,700.4 L1802.6,699.4 L1804.7,700.4 L1806.8,715.4 L1809.4,715.4 L1811.5,696.1 L1814.3,695.1 L1816.5,696.1 L1818.6,707.9 L1820.7,706.8 L1823.5,706.8 L1826.1,707.9 L1827.8,666.2 L1830.3,665.8 L1832.5,649.1 L1835.7,644.9 L1840.0,644.4 L1843.6,643.8 L1846.4,631.0 L1849.6,630.3 L1852.1,632.0 L1853.8,653.4 L1857.1,651.3 L1860.3,644.9 L1863.5,645.9 L1866.7,659.8 L1869.9,662.0 L1873.1,666.2 L1876.3,671.6 L1880.6,671.6 L1884.8,672.2 L1890.2,671.6 L1895.5,671.6 L1898.7,673.7 L1901.9,682.3 L1904.7,704.7 L1907.3,728.2 L1909.4,740.0 L1911.5,740.0 L1914.7,773.1 L1916.9,839.3 L1920.1,841.4 L1923.3,839.3 L1926.5,838.9 L1929.7,839.3 L1932.9,843.6 L1935.0,843.6 L1937.2,821.1 L1940.4,821.1 L1942.5,832.9 L1944.7,847.9 L1947.9,858.5 L1950.0,858.5 L1951.7,826.5 L1953.8,782.7 L1956.4,781.6 L1959.0,782.7 L1961.8,811.5 L1963.9,803.0 L1966.7,803.0 L1969.2,809.4 L1972.4,809.4 L1975.2,792.3 L1977.8,790.2 L1979.9,768.8 L1983.1,768.4 L1986.3,768.8 L1989.5,766.7 L1991.0,747.4 L1993.8,747.0 L1997.0,747.4 L1999.1,762.4 L2000.9,722.9 L2003.0,703.6 L2005.6,654.5 L2008.1,653.8 L2010.3,655.1 L2012.0,719.7 L2014.1,705.8 L2017.3,705.3 L2019.4,706.8 L2022.2,719.7 L2024.8,719.7 L2028.0,720.7 L2030.8,715.4 L2033.3,712.2 L2036.5,711.5 L2039.7,715.4 L2041.9,730.3 L2044.4,738.9 L2046.6,760.3 L2049.4,762.4 L2050.4,728.2 L2052.6,727.8 L2054.7,728.2 L2056.4,794.4 L2059.0,800.9 L2061.5,809.4 L2064.3,809.4 L2067.1,798.7 L2069.7,751.7 L2071.8,691.9 L2073.9,683.3 L2077.1,679.5 L2080.3,678.6 L2082.9,662.0 L2085.7,655.6 L2088.5,656.6 L2090.0,709.0 L2092.7,687.6 L2095.3,680.8 L2097.9,684.4 L2100.6,689.7 L2103.8,690.8 L2107.1,691.9 L2109.8,698.3 L2112.0,704.7 L2114.5,697.9 L2117.1,698.3 L2119.9,773.1 L2122.6,774.1 L2125.2,774.1 L2125.2,789.3 L2122.6,803.2 L2119.9,804.3 L2117.1,803.2 L2114.5,801.1 L2112.0,789.3 L2109.8,744.4 L2107.1,742.3 L2103.8,723.1 L2100.6,711.3 L2097.9,710.2 L2095.3,770.1 L2092.7,776.5 L2090.0,777.6 L2088.5,770.1 L2085.7,744.4 L2082.9,714.5 L2080.3,714.5 L2077.1,714.5 L2073.9,774.3 L2071.8,832.0 L2069.7,838.4 L2067.1,839.5 L2064.3,847.0 L2061.5,847.0 L2059.0,851.3 L2056.4,852.3 L2054.7,960.2 L2052.6,965.6 L2050.4,960.2 L2049.4,848.1 L2046.6,847.0 L2044.4,806.4 L2041.9,774.3 L2039.7,759.4 L2036.5,740.2 L2033.3,743.4 L2030.8,744.4 L2028.0,746.1 L2024.8,746.6 L2022.2,760.5 L2019.4,760.5 L2017.3,748.7 L2014.1,750.8 L2012.0,755.1 L2010.3,818.1 L2008.1,818.8 L2005.6,818.1 L2003.0,787.2 L2000.9,791.4 L1999.1,822.4 L1997.0,823.5 L1993.8,822.4 L1991.0,797.9 L1989.5,802.1 L1986.3,803.2 L1983.1,802.1 L1979.9,802.1 L1977.8,828.8 L1975.2,828.8 L1972.4,829.9 L1969.2,835.2 L1966.7,836.3 L1963.9,835.2 L1961.8,832.0 L1959.0,831.0 L1956.4,842.7 L1953.8,847.0 L1951.7,866.2 L1950.0,898.3 L1947.9,900.0 L1944.7,898.3 L1942.5,887.6 L1940.4,855.5 L1937.2,854.5 L1935.0,857.7 L1932.9,859.8 L1929.7,859.4 L1926.5,859.8 L1923.3,859.8 L1920.1,862.0 L1916.9,875.8 L1914.7,876.9 L1911.5,875.8 L1909.4,844.9 L1907.3,823.5 L1904.7,770.1 L1901.9,727.3 L1898.7,684.6 L1895.5,675.6 L1890.2,675.0 L1884.8,675.0 L1880.6,676.5 L1876.3,677.1 L1873.1,673.9 L1869.9,671.8 L1866.7,678.2 L1863.5,678.2 L1860.3,680.3 L1857.1,686.7 L1853.8,688.9 L1852.1,723.1 L1849.6,725.6 L1846.4,725.2 L1843.6,693.1 L1840.0,695.3 L1835.7,697.4 L1832.5,720.9 L1830.3,766.9 L1827.8,767.9 L1826.1,819.2 L1823.5,820.3 L1820.7,819.2 L1818.6,772.2 L1816.5,770.1 L1814.3,767.9 L1811.5,767.9 L1809.4,770.1 L1806.8,788.2 L1804.7,789.3 L1802.6,813.9 L1800.0,813.9 L1797.9,812.8 L1795.7,791.4 L1794.0,770.1 L1790.8,767.9 L1786.5,767.9 L1781.2,769.0 L1776.9,770.1 L1772.6,769.6 L1768.4,767.9 L1766.2,761.5 L1763.0,759.4 L1759.8,761.5 L1757.7,762.6 L1754.5,763.7 L1751.3,767.9 L1748.1,773.3 L1745.9,773.3 L1743.2,782.9 L1741.0,784.0 L1738.5,785.0 L1736.8,808.5 L1734.2,810.2 L1731.6,809.6 L1728.8,792.5 L1726.7,791.4 L1724.6,790.4 L1722.4,790.4 L1720.3,790.4 L1718.2,765.8 L1715.0,757.3 L1711.8,757.3 L1708.5,756.2 L1705.3,754.0 L1704.6,750.8 L1702.4,748.7 L1700.3,744.4 L1697.1,745.5 L1694.3,744.4 L1691.8,755.1 L1689.2,757.3 L1687.5,776.5 L1684.3,776.5 L1682.1,758.3 L1678.9,758.3 L1675.7,753.0 L1673.6,785.0 L1671.5,787.2 L1668.7,787.2 L1666.5,789.3 L1664.0,791.4 L1661.4,791.4 L1659.3,785.0 L1656.5,811.7 L1653.7,812.8 L1651.2,812.8 L1649.0,757.3 L1645.8,748.7 L1643.0,761.5 L1640.5,761.5 L1637.3,742.3 L1635.1,714.5 L1631.9,663.2 L1628.7,663.2 L1625.5,727.3 L1622.9,812.8 L1620.8,842.7 L1618.0,848.1 L1614.8,849.1 L1611.6,853.4 L1608.4,853.4 L1606.3,910.0 L1604.1,911.1 L1602.4,770.1 L1599.9,729.5 L1597.3,730.5 L1594.5,729.5 L1592.4,720.9 L1589.6,720.9 L1586.0,720.9 L1582.8,723.1 L1579.6,748.7 L1578.5,827.8 L1576.4,827.8 L1573.8,827.8 L1571.7,827.8 L1569.5,834.2 L1567.4,871.6 L1565.3,872.6 L1562.5,873.7 L1561.0,891.9 L1558.8,891.9 L1556.7,891.9 L1553.9,887.6 L1551.2,883.3 L1548.6,870.5 L1545.4,872.6 L1542.6,903.6 L1540.0,904.7 L1536.8,904.7 L1534.1,915.4 L1531.5,916.4 L1528.9,915.4 L1527.2,838.4 L1525.1,770.1 L1523.4,732.7 L1520.8,732.7 L1518.7,733.7 L1516.5,732.7 L1513.3,731.6 L1511.2,745.5 L1509.1,746.6 L1506.9,746.6 L1503.7,740.2 L1501.2,740.2 L1498.4,759.4 L1495.6,765.8 L1493.5,767.9 L1491.3,795.7 L1488.8,795.7 L1486.2,802.1 L1484.5,844.9 L1482.4,885.5 L1480.2,905.8 L1478.5,906.4 L1475.9,905.8 L1473.8,800.0 L1470.6,757.3 L1467.4,757.3 L1464.2,759.4 L1461.0,759.4 L1457.8,786.1 L1455.6,787.2 L1453.5,787.2 L1451.4,822.4 L1448.6,822.4 L1446.0,791.4 L1442.8,770.1 L1440.0,767.9 L1438.5,784.0 L1435.8,784.0 L1433.6,778.6 L1432.1,806.4 L1428.9,806.4 L1426.4,808.5 L1424.7,888.7 L1422.5,889.3 L1420.0,888.7 L1418.2,836.3 L1416.1,812.8 L1413.5,834.2 L1410.8,842.7 L1409.3,844.9 L1406.5,844.9 L1405.0,812.8 L1402.2,820.3 L1399.0,821.4 L1397.3,863.0 L1395.8,863.0 L1393.0,863.0 L1392.2,828.8 L1389.4,828.8 L1386.2,826.7 L1383.0,826.7 L1379.8,826.7 L1378.1,842.7 L1375.9,843.8 L1374.4,834.2 L1372.3,788.2 L1367.0,788.2 L1361.6,788.2 L1359.5,788.2 L1357.4,787.2 L1355.2,793.6 L1353.1,795.7 L1350.9,808.5 L1348.8,809.6 L1345.6,804.3 L1342.4,804.3 L1339.2,809.6 L1336.0,809.6 L1332.8,808.5 L1329.6,806.4 L1326.4,814.9 L1323.2,821.4 L1320.4,832.0 L1317.8,838.4 L1315.3,838.4 L1314.1,836.3 L1311.4,829.9 L1309.2,810.7 L1306.5,811.7 L1303.9,810.7 L1302.2,795.7 L1299.6,795.7 L1296.4,807.5 L1294.3,808.1 L1292.1,807.5 L1289.4,806.4 L1287.9,770.1 L1285.7,750.8 L1282.9,748.7 L1280.4,722.0 L1276.1,720.9 L1270.8,721.4 L1265.4,722.0 L1261.2,719.9 L1258.6,717.7 L1255.8,718.8 L1253.7,727.3 L1250.9,727.3 L1248.3,713.4 L1245.1,712.4 L1241.9,706.0 L1238.7,706.0 L1235.5,740.2 L1233.4,769.0 L1231.2,767.9 L1229.5,778.6 L1227.4,778.6 L1225.3,779.7 L1223.1,812.8 L1221.6,833.1 L1218.8,833.1 L1216.7,821.4 L1215.2,789.3 L1213.1,787.2 L1210.9,812.8 L1208.8,853.4 L1206.7,858.7 L1203.9,858.7 L1201.3,855.5 L1198.1,854.5 L1195.3,863.0 L1192.4,863.0 L1189.6,853.4 L1186.4,858.7 L1183.8,859.8 L1181.0,874.8 L1178.9,882.3 L1176.8,882.3 L1174.6,872.6 L1172.5,825.6 L1170.3,802.1 L1167.6,800.0 L1165.0,810.7 L1161.8,810.7 L1158.6,811.7 L1154.7,811.7 L1152.2,822.4 L1149.0,823.5 L1146.2,822.4 L1144.1,819.2 L1141.9,819.2 L1139.4,818.1 L1137.6,795.7 L1135.1,816.0 L1132.9,817.1 L1130.4,817.1 L1128.7,808.5 L1126.5,770.1 L1123.3,759.4 L1120.1,757.3 L1116.9,756.2 L1114.1,759.4 L1112.6,791.4 L1110.5,795.7 L1108.4,794.6 L1107.3,727.3 L1105.2,684.6 L1102.0,681.4 L1099.2,680.3 L1096.6,688.9 L1093.4,688.9 L1090.2,687.8 L1088.1,688.9 L1084.9,693.1 L1081.7,695.3 L1078.5,701.7 L1075.3,710.2 L1073.1,714.5 L1069.9,719.9 L1066.7,722.0 L1063.5,720.9 L1060.3,723.1 L1057.1,743.4 L1053.9,748.7 L1050.7,753.0 L1048.5,765.8 L1045.3,778.6 L1042.1,782.9 L1040.0,832.0 L1038.5,834.2 L1035.7,833.1 L1033.6,825.6 L1031.5,817.1 L1028.2,812.8 L1026.1,800.0 L1024.0,816.0 L1020.8,817.1 L1018.6,812.8 L1016.5,823.5 L1013.3,824.6 L1010.1,823.5 L1006.9,821.4 L1003.7,822.4 L1000.5,821.4 L997.3,782.9 L995.1,759.4 L993.0,748.7 L988.7,732.7 L983.4,731.6 L979.1,729.5 L977.0,734.8 L974.8,735.9 L971.6,735.9 L968.4,720.9 L965.9,720.9 L963.7,718.8 L961.6,714.5 L959.4,716.7 L956.7,716.7 L953.9,714.5 L951.3,723.1 L948.1,731.6 L944.9,733.7 L942.8,770.1 L941.1,825.6 L939.6,849.1 L937.4,850.2 L935.3,875.8 L932.5,875.8 L930.4,855.5 L927.8,855.5 L925.7,853.4 L923.5,842.7 L921.4,836.3 L919.6,770.1 L917.4,812.8 L914.9,829.9 L913.2,836.3 L911.0,836.3 L907.8,844.9 L904.6,844.9 L902.5,842.7 L899.3,841.7 L897.1,840.6 L893.9,812.8 L890.7,802.1 L888.6,782.9 L886.5,780.8 L883.2,767.9 L881.5,765.8 L879.4,748.7 L875.8,757.3 L872.6,763.7 L870.4,764.7 L867.2,765.8 L864.4,765.8 L861.9,770.1 L859.7,780.8 L858.0,781.8 L855.5,780.8 L852.3,780.8 L850.1,784.0 L848.0,784.0 L845.9,770.1 L843.7,731.6 L840.5,731.6 L836.2,732.0 L832.0,732.7 L827.7,732.7 L823.4,730.5 L819.1,729.9 L814.9,729.9 L810.6,728.4 L806.3,728.4 L801.6,729.5 L799.9,729.5 L797.8,731.6 L794.6,737.0 L791.4,753.0 L789.2,754.0 L786.0,753.0 L783.9,767.9 L781.1,769.0 L778.5,767.9 L776.4,762.6 L773.2,762.6 L770.0,757.3 L768.3,757.3 L765.7,757.3 L763.6,757.3 L760.4,757.3 L757.2,770.1 L754.0,777.6 L751.8,778.6 L749.1,790.4 L746.5,790.4 L744.4,770.1 L742.2,740.2 L740.1,742.3 L737.9,747.6 L735.8,748.7 L733.7,757.3 L731.5,776.5 L729.4,777.6 L726.2,776.5 L724.1,761.5 L720.9,762.6 L718.7,753.0 L717.0,785.0 L714.9,786.1 L712.3,787.2 L710.2,785.0 L708.0,797.9 L705.9,817.1 L703.3,821.4 L700.6,820.3 L697.8,806.4 L695.2,806.4 L693.1,804.3 L690.9,765.8 L688.8,731.6 L685.6,684.6 L683.5,667.5 L680.3,667.5 L677.7,727.3 L676.0,770.1 L674.3,812.8 L672.1,834.2 L670.6,854.5 L668.9,855.5 L666.4,854.5 L664.2,849.1 L661.5,851.3 L658.9,855.5 L656.8,855.5 L655.0,876.9 L653.5,897.2 L652.1,897.2 L650.3,834.2 L648.2,733.7 L646.1,733.7 L642.9,731.6 L640.7,723.1 L638.6,723.1 L636.5,720.9 L633.2,727.3 L630.7,744.4 L629.0,823.5 L626.8,824.6 L624.7,823.5 L622.6,823.5 L620.4,842.7 L618.3,857.7 L616.2,862.0 L614.0,876.9 L611.9,879.0 L609.7,888.7 L607.6,888.7 L605.5,887.6 L603.3,872.6 L600.1,873.7 L596.9,872.6 L594.4,883.3 L591.6,896.1 L588.8,909.0 L586.2,910.0 L584.1,917.5 L582.0,918.6 L580.9,904.7 L579.4,855.5 L578.1,770.1 L576.0,731.6 L574.5,731.6 L572.4,731.6 L569.6,731.6 L568.1,743.4 L565.9,744.4 L562.7,729.5 L559.5,744.4 L557.4,745.5 L555.3,744.4 L552.1,738.0 L548.8,735.9 L545.6,767.9 L542.4,767.9 L540.3,782.9 L538.2,782.9 L536.0,782.9 L533.2,802.1 L531.8,844.9 L529.6,855.5 L527.4,887.6 L525.3,910.0 L523.2,909.0 L521.0,887.6 L518.9,812.8 L516.3,760.5 L514.6,760.5 L512.5,760.5 L509.3,759.4 L506.1,776.5 L502.9,778.6 L500.1,782.9 L497.9,824.6 L495.4,824.6 L492.2,802.1 L490.0,770.1 L485.8,785.0 L483.6,790.4 L481.5,790.4 L479.4,789.3 L477.2,785.0 L474.0,803.2 L470.8,803.2 L468.7,806.4 L467.2,856.6 L464.4,857.3 L462.3,856.6 L460.1,842.7 L458.0,819.2 L455.2,821.4 L452.6,832.0 L449.4,833.1 L446.2,831.0 L443.0,813.9 L438.8,817.1 L436.6,866.2 L433.4,867.3 L431.3,866.2 L428.1,825.6 L424.9,822.4 L420.6,820.3 L416.3,819.2 L413.1,816.0 L409.9,823.5 L406.7,823.5 L403.5,811.7 L400.3,812.8 L396.0,813.9 L391.8,813.9 L389.6,812.8 L386.4,810.7 L383.2,819.2 L381.1,819.2 L378.9,837.4 L376.8,838.4 L374.7,837.4 L372.5,822.4 L370.4,821.4 L368.2,806.4 L366.1,825.6 L364.0,827.8 L361.8,826.7 L359.7,795.7 L357.6,789.3 L355.4,797.9 L353.3,806.4 L350.5,806.4 L349.0,806.4 L346.9,802.1 L344.7,791.4 L342.6,740.2 L340.5,739.1 L338.3,712.4 L336.2,710.2 L333.0,714.5 L329.8,778.6 L327.6,787.2 L325.5,787.2 L324.0,789.3 L321.9,795.7 L319.1,797.9 L316.3,825.6 L315.0,832.0 L313.3,832.0 L311.6,819.2 L309.5,789.3 L307.4,782.9 L304.1,780.3 L300.9,780.8 L297.7,780.8 L295.0,802.1 L293.5,813.9 L290.7,813.9 L289.2,797.9 L287.1,808.5 L284.9,825.6 L282.1,840.6 L280.6,847.0 L278.5,853.4 L275.3,855.5 L272.1,859.8 L268.9,862.0 L265.7,863.0 L262.5,860.9 L259.3,855.5 L256.1,859.8 L253.9,872.6 L251.8,882.3 L249.2,887.6 L247.1,887.6 L245.4,855.5 L243.2,823.5 L241.5,797.9 L239.0,800.0 L235.8,804.3 L232.6,807.5 L229.4,808.5 L226.2,809.6 L222.9,808.5 L220.8,818.1 L218.0,818.1 L216.5,808.5 L214.4,812.8 L212.9,813.9 L211.2,813.9 L208.0,802.1 L204.8,804.3 L203.9,818.1 L202.6,819.2 L200.1,817.1 L198.4,791.4 L196.2,763.7 L193.0,755.1 L187.7,756.2 L183.4,759.0 L179.1,757.3 L172.7,756.8 L167.4,758.3 L163.1,757.3 L161.0,757.3 L158.8,757.3 L157.4,759.4 L155.6,788.2 L153.9,789.3 L152.4,731.6 L150.9,695.3 L148.8,678.2 L146.7,680.3 L143.9,682.5 L140.7,683.5 L138.1,682.5 Z" stroke="#00ff00" fill="#00ff00" stroke-width="3"/>
</g>
<text class="tk" x="138.8" y="1044.0" text-anchor="middle">0</text>
<text class="tk" x="337.3" y="1044.0" text-anchor="middle">200</text>
<text class="tk" x="535.9" y="1044.0" text-anchor="middle">400</text>
<text class="tk" x="734.4" y="1044.0" text-anchor="middle">600</text>
<text class="tk" x="933.0" y="1044.0" text-anchor="middle">800</text>
<text class="tk" x="1131.5" y="1044.0" text-anchor="middle">1000</text>
<text class="tk" x="1330.0" y="1044.0" text-anchor="middle">1200</text>
<text class="tk" x="1528.6" y="1044.0" text-anchor="middle">1400</text>
<text class="tk" x="1727.1" y="1044.0" text-anchor="middle">1600</text>
<text class="tk" x="1925.7" y="1044.0" text-anchor="middle">1800</text>
<text class="tk" x="2124.2" y="1044.0" text-anchor="middle">2000</text>
<text class="tk" x="122.8" y="700.6" text-anchor="end">0</text>
<text class="tk" x="122.8" y="850.4" text-anchor="end">-2</text>
<text class="tk" x="122.8" y="999.6" text-anchor="end">-4</text>
<text class="lb" x="1132.5" y="1108.4" text-anchor="middle">Time (sec)</text>
<text class="lb" transform="translate(58.4,805.1) rotate(-90)" text-anchor="middle">Pitch (deg)</text>
<path d="M338.3,1208.5 V1565.5 M536.9,1208.5 V1565.5 M735.4,1208.5 V1565.5 M934.0,1208.5 V1565.5 M1132.5,1208.5 V1565.5 M1331.0,1208.5 V1565.5 M1529.6,1208.5 V1565.5 M1728.1,1208.5 V1565.5 M1926.7,1208.5 V1565.5 M139.8,1327.5 H2125.2 M139.8,1446.5 H2125.2" stroke="#dfdfdf" stroke-width="3.20" fill="none"/>
<path d="M338.3,1565.5 v-22.0 M338.3,1208.5 v22.0 M536.9,1565.5 v-22.0 M536.9,1208.5 v22.0 M735.4,1565.5 v-22.0 M735.4,1208.5 v22.0 M934.0,1565.5 v-22.0 M934.0,1208.5 v22.0 M1132.5,1565.5 v-22.0 M1132.5,1208.5 v22.0 M1331.0,1565.5 v-22.0 M1331.0,1208.5 v22.0 M1529.6,1565.5 v-22.0 M1529.6,1208.5 v22.0 M1728.1,1565.5 v-22.0 M1728.1,1208.5 v22.0 M1926.7,1565.5 v-22.0 M1926.7,1208.5 v22.0 M139.8,1327.5 h22.0 M2125.2,1327.5 h-22.0 M139.8,1446.5 h22.0 M2125.2,1446.5 h-22.0" stroke="#262626" stroke-width="3.60" fill="none"/>
<rect x="139.8" y="1208.5" width="1985.4" height="357.0" fill="none" stroke="#262626" stroke-width="3.60"/>
<clipPath id="clip3"><rect x="137.8" y="1205.0" width="1989.4" height="364.0"/></clipPath>
<g id="plot3" clip-path="url(#clip3)" fill="none" stroke-width="6.6" stroke-linejoin="round" stroke-linecap="butt">
<path d="M138.5,1540.6 L141.8,1557.7 L145.0,1565.2 L148.2,1544.9 L151.4,1512.8 L154.6,1438.0 L156.7,1395.3 L158.8,1365.4 L161.6,1352.6 L163.1,1356.8 L164.6,1395.3 L166.3,1427.4 L168.5,1461.5 L170.6,1459.4 L173.8,1438.0 L179.1,1395.3 L185.6,1352.6 L192.0,1305.6 L197.3,1277.8 L200.1,1271.8 L201.6,1275.6 L203.1,1309.8 L204.8,1352.6 L206.9,1395.3 L210.1,1448.7 L213.3,1480.8 L216.5,1512.8 L218.7,1521.4 L221.9,1525.6 L226.2,1528.9 L230.4,1533.1 L234.7,1536.3 L239.0,1544.9 L243.2,1557.7 L246.5,1565.2 L252.9,1565.2 L256.1,1553.4 L258.2,1544.9 L261.4,1545.9 L264.6,1553.4 L268.9,1557.7 L273.2,1558.8 L277.4,1555.6 L281.7,1556.6 L286.0,1553.4 L290.3,1554.5 L294.5,1551.3 L298.8,1553.4 L303.1,1557.7 L307.4,1556.6 L311.6,1554.5 L315.9,1553.4 L322.3,1553.4 L328.7,1544.9 L333.0,1542.7 L337.3,1540.6 L341.5,1541.7 L344.7,1538.5 L347.9,1533.1 L352.2,1529.9 L356.5,1531.0 L360.8,1529.9 L365.0,1531.0 L369.3,1529.9 L373.6,1532.1 L375.7,1523.5 L377.9,1517.1 L380.0,1523.5 L382.1,1529.9 L384.3,1522.4 L387.5,1523.5 L390.7,1529.9 L395.0,1533.1 L399.2,1536.3 L403.5,1533.1 L407.8,1532.1 L412.1,1527.8 L416.3,1525.6 L420.6,1524.6 L424.9,1525.2 L429.1,1525.6 L433.4,1531.0 L437.7,1532.1 L442.0,1533.1 L446.2,1532.1 L450.5,1534.2 L454.8,1535.3 L459.1,1534.2 L463.3,1535.3 L467.6,1533.1 L471.9,1534.2 L476.2,1537.4 L480.4,1541.7 L484.7,1542.7 L489.0,1541.7 L493.2,1540.6 L497.5,1540.6 L501.8,1539.5 L506.1,1542.7 L510.3,1542.7 L514.6,1541.7 L518.9,1538.5 L523.2,1529.9 L527.4,1523.5 L529.1,1523.2 L531.4,1517.1 L533.6,1513.4 L536.7,1511.8 L540.5,1512.3 L544.3,1513.4 L547.3,1515.6 L549.6,1520.2 L552.6,1521.7 L555.6,1518.7 L558.7,1521.7 L561.7,1520.2 L564.7,1518.7 L567.7,1522.5 L570.8,1524.7 L573.8,1529.3 L576.1,1536.9 L578.4,1527.8 L579.4,1514.9 L581.4,1513.4 L582.9,1523.2 L585.2,1524.7 L587.5,1518.7 L589.7,1511.1 L592.0,1505.8 L595.0,1503.5 L597.3,1505.8 L599.6,1512.6 L601.9,1521.7 L604.1,1526.2 L607.2,1524.0 L611.0,1522.5 L614.7,1521.7 L617.8,1519.4 L620.8,1517.9 L624.6,1519.4 L628.4,1520.9 L632.2,1522.5 L635.2,1525.5 L637.5,1530.8 L639.8,1536.9 L642.8,1538.4 L645.1,1536.9 L647.3,1541.4 L649.6,1546.0 L650.7,1527.8 L652.2,1515.6 L654.2,1513.4 L656.4,1515.6 L657.9,1526.2 L660.2,1526.2 L662.5,1518.7 L664.8,1514.9 L667.8,1514.1 L670.8,1517.1 L673.9,1516.4 L677.6,1515.6 L680.7,1518.7 L683.7,1522.5 L686.7,1524.7 L689.8,1526.2 L693.6,1525.5 L696.6,1523.2 L698.1,1505.0 L699.6,1488.3 L701.1,1486.8 L702.7,1494.4 L703.4,1515.6 L704.2,1538.4 L704.9,1552.0 L707.2,1549.7 L709.5,1547.5 L712.5,1542.9 L715.5,1540.6 L718.6,1539.9 L722.4,1542.2 L726.2,1546.0 L729.9,1548.2 L733.7,1547.5 L737.5,1548.2 L741.3,1549.7 L744.3,1553.5 L747.4,1555.8 L750.4,1556.6 L754.2,1561.1 L758.0,1565.7 L762.5,1564.1 L767.1,1561.1 L771.6,1558.1 L776.2,1555.0 L780.0,1553.5 L783.8,1557.3 L787.5,1559.6 L791.3,1556.6 L794.4,1558.1 L797.4,1561.1 L801.9,1563.4 L806.5,1564.9 L811.0,1564.1 L815.6,1564.9 L820.1,1566.4 L826.2,1567.2 L832.3,1567.2 L838.3,1567.2 L842.9,1566.4 L845.9,1553.5 L848.2,1536.9 L850.3,1523.2 L852.6,1509.6 L854.9,1507.3 L857.1,1509.6 L859.4,1514.1 L862.4,1518.7 L863.9,1530.8 L866.2,1539.9 L869.3,1544.4 L872.3,1549.0 L875.3,1542.9 L877.6,1535.3 L879.9,1533.8 L882.1,1536.9 L884.4,1544.4 L886.7,1552.0 L889.7,1558.1 L893.5,1558.1 L897.3,1553.5 L900.3,1547.5 L903.4,1541.4 L905.6,1540.6 L908.7,1541.4 L911.7,1544.4 L914.7,1545.2 L917.8,1544.4 L920.0,1541.4 L921.5,1530.8 L923.8,1528.5 L926.1,1530.8 L927.6,1546.0 L929.9,1558.1 L934.4,1565.7 L939.0,1566.4 L943.5,1565.7 L948.1,1563.4 L952.6,1562.6 L957.2,1564.1 L961.7,1563.4 L966.3,1563.4 L970.8,1564.1 L975.4,1563.4 L979.9,1561.9 L984.5,1559.6 L989.0,1558.1 L993.6,1557.3 L996.6,1553.5 L998.9,1548.2 L1000.4,1546.0 L1002.6,1549.0 L1005.7,1553.5 L1008.7,1558.1 L1011.7,1563.4 L1016.3,1561.1 L1020.8,1560.4 L1025.4,1561.1 L1029.2,1564.9 L1033.0,1559.6 L1036.0,1556.6 L1038.3,1563.4 L1040.5,1546.0 L1042.1,1542.9 L1045.1,1533.8 L1047.4,1527.8 L1049.6,1518.7 L1051.9,1514.9 L1054.2,1514.1 L1057.2,1517.1 L1060.2,1520.2 L1064.0,1518.7 L1067.1,1517.9 L1070.9,1520.2 L1073.1,1517.1 L1075.4,1515.6 L1078.4,1518.7 L1080.0,1529.3 L1081.5,1532.3 L1083.0,1520.2 L1084.5,1512.6 L1086.8,1511.8 L1089.1,1517.1 L1091.3,1515.6 L1093.6,1511.1 L1096.6,1508.1 L1099.7,1505.8 L1102.7,1505.0 L1105.7,1505.8 L1109.5,1505.8 L1113.3,1503.5 L1116.3,1502.0 L1118.6,1502.0 L1120.9,1505.0 L1123.9,1509.6 L1126.9,1511.1 L1129.2,1505.0 L1131.5,1504.3 L1133.8,1508.1 L1136.0,1515.6 L1138.3,1520.2 L1140.6,1517.9 L1143.6,1517.1 L1146.7,1520.2 L1149.7,1523.2 L1152.7,1524.7 L1155.7,1524.0 L1159.5,1521.7 L1163.3,1520.9 L1167.1,1519.4 L1170.9,1517.1 L1173.0,1517.1 L1175.3,1526.2 L1178.3,1536.9 L1181.4,1530.8 L1183.6,1526.2 L1185.9,1530.8 L1188.2,1527.8 L1191.2,1520.2 L1195.0,1517.1 L1198.0,1518.7 L1201.8,1523.2 L1205.6,1525.5 L1209.4,1525.5 L1212.4,1529.3 L1215.5,1535.3 L1218.5,1539.9 L1222.3,1542.9 L1223.8,1552.0 L1226.1,1558.1 L1230.6,1564.1 L1235.2,1565.7 L1239.7,1566.4 L1244.3,1561.1 L1248.8,1556.6 L1252.6,1556.6 L1256.4,1559.6 L1261.0,1564.1 L1264.7,1566.4 L1270.0,1565.7 L1276.1,1564.9 L1282.2,1565.7 L1288.2,1566.4 L1294.3,1566.4 L1298.8,1564.1 L1301.9,1561.1 L1304.9,1565.7 L1309.5,1566.4 L1314.0,1565.7 L1317.8,1561.1 L1321.6,1556.6 L1323.9,1546.0 L1325.4,1535.3 L1327.6,1527.8 L1329.9,1521.7 L1333.0,1518.7 L1336.7,1516.4 L1340.5,1514.9 L1344.3,1512.6 L1346.6,1508.1 L1349.6,1505.8 L1352.7,1503.5 L1355.7,1499.7 L1358.7,1497.4 L1361.8,1496.7 L1364.8,1499.7 L1367.1,1499.0 L1370.1,1495.9 L1373.1,1492.1 L1375.4,1490.6 L1377.7,1492.9 L1378.4,1502.0 L1379.9,1508.1 L1382.2,1511.1 L1385.2,1513.4 L1387.5,1521.7 L1389.0,1530.8 L1390.6,1538.4 L1393.6,1539.9 L1397.4,1539.9 L1401.9,1539.1 L1406.5,1538.4 L1411.0,1537.6 L1415.6,1539.1 L1420.1,1540.6 L1424.7,1539.9 L1429.2,1538.4 L1433.8,1538.4 L1438.3,1539.1 L1442.9,1539.1 L1447.4,1539.9 L1451.9,1539.9 L1456.5,1542.9 L1460.3,1547.5 L1464.1,1550.5 L1467.9,1552.0 L1470.9,1556.6 L1473.2,1561.9 L1476.2,1562.6 L1478.5,1558.1 L1480.7,1550.5 L1483.0,1539.9 L1485.3,1532.3 L1488.3,1530.0 L1492.9,1530.0 L1497.4,1529.3 L1499.1,1529.3 L1502.9,1525.5 L1506.7,1527.8 L1510.5,1530.0 L1514.3,1531.5 L1518.0,1530.8 L1521.8,1527.8 L1525.6,1527.0 L1527.9,1533.8 L1529.1,1515.6 L1530.2,1502.0 L1533.2,1499.0 L1536.2,1502.0 L1540.0,1501.2 L1543.1,1495.9 L1546.1,1490.6 L1549.1,1490.6 L1551.4,1494.4 L1552.9,1502.0 L1555.2,1508.1 L1559.0,1508.1 L1562.8,1511.1 L1566.5,1514.9 L1570.3,1518.7 L1573.4,1520.9 L1577.2,1520.2 L1581.0,1521.7 L1584.0,1526.2 L1588.5,1527.8 L1592.3,1530.8 L1595.4,1535.3 L1598.4,1539.9 L1600.7,1542.9 L1602.9,1527.8 L1604.4,1518.7 L1607.5,1518.7 L1609.8,1527.8 L1612.0,1521.7 L1613.5,1511.1 L1616.6,1506.5 L1620.4,1503.5 L1624.2,1502.0 L1627.9,1497.4 L1631.0,1495.2 L1634.8,1495.9 L1637.8,1500.5 L1641.6,1502.7 L1645.4,1502.7 L1648.4,1497.4 L1650.7,1494.4 L1653.0,1496.7 L1654.5,1506.5 L1655.2,1521.7 L1656.0,1535.3 L1658.3,1539.9 L1659.8,1564.1 L1662.0,1553.5 L1664.3,1539.9 L1667.4,1535.3 L1671.1,1532.3 L1674.9,1531.5 L1678.7,1531.5 L1682.5,1532.3 L1686.3,1535.3 L1690.1,1536.9 L1693.1,1533.8 L1695.4,1527.8 L1696.9,1518.7 L1699.2,1513.4 L1702.2,1509.6 L1705.2,1503.5 L1708.3,1500.5 L1712.1,1500.5 L1715.9,1502.0 L1720.4,1500.5 L1723.4,1505.0 L1725.7,1515.6 L1728.0,1521.7 L1731.0,1514.1 L1732.5,1520.2 L1733.3,1533.8 L1734.8,1544.4 L1738.6,1549.0 L1742.4,1550.5 L1746.2,1553.5 L1750.7,1555.0 L1755.3,1558.1 L1759.1,1561.9 L1762.9,1562.6 L1767.4,1561.1 L1770.4,1559.6 L1773.5,1564.9 L1777.3,1558.1 L1781.0,1552.0 L1784.8,1547.5 L1788.6,1544.4 L1792.4,1540.6 L1794.7,1539.1 L1797.0,1541.4 L1799.2,1549.0 L1801.5,1558.1 L1803.0,1564.1 L1806.1,1558.1 L1809.8,1552.0 L1813.6,1547.5 L1817.4,1542.9 L1818.3,1541.4 L1822.1,1536.9 L1825.9,1534.6 L1829.7,1533.1 L1832.7,1534.6 L1835.8,1537.6 L1840.3,1538.4 L1844.9,1539.1 L1849.4,1538.4 L1854.0,1536.1 L1857.7,1533.8 L1861.5,1533.1 L1865.3,1534.6 L1868.4,1530.8 L1870.6,1529.3 L1873.7,1532.3 L1876.7,1530.8 L1879.7,1526.2 L1882.8,1524.0 L1885.8,1526.2 L1888.8,1529.3 L1892.6,1530.8 L1895.6,1530.8 L1898.7,1529.3 L1901.0,1532.3 L1903.2,1536.9 L1905.5,1544.4 L1906.7,1549.0 L1907.6,1539.9 L1908.5,1527.8 L1910.8,1526.2 L1913.8,1527.0 L1916.1,1530.8 L1918.4,1535.3 L1920.7,1539.9 L1923.7,1542.2 L1927.5,1542.9 L1931.3,1543.7 L1934.3,1546.0 L1936.6,1552.0 L1938.8,1558.1 L1941.9,1561.1 L1944.9,1564.1 L1947.2,1546.0 L1948.7,1527.8 L1951.0,1521.7 L1954.0,1520.9 L1956.3,1527.8 L1958.6,1533.8 L1960.1,1539.9 L1961.6,1552.0 L1963.1,1561.1 L1966.1,1564.9 L1970.7,1565.7 L1975.2,1559.6 L1978.3,1555.0 L1982.0,1552.8 L1986.6,1552.0 L1991.1,1552.0 L1994.2,1550.5 L1995.7,1544.4 L1998.0,1539.9 L2001.0,1539.9 L2004.0,1541.4 L2006.3,1539.9 L2008.6,1532.3 L2011.6,1529.3 L2014.6,1524.7 L2017.7,1521.7 L2021.5,1520.9 L2025.2,1520.9 L2029.0,1520.2 L2032.8,1522.5 L2036.6,1524.7 L2040.4,1524.0 L2043.4,1526.2 L2045.7,1532.3 L2048.7,1534.6 L2052.5,1537.6 L2056.3,1541.4 L2060.1,1546.0 L2063.9,1550.5 L2067.7,1555.0 L2071.5,1559.6 L2074.5,1564.1 L2076.8,1565.7 L2079.1,1559.6 L2082.9,1559.6 L2085.9,1561.1 L2088.2,1565.7 L2090.4,1558.1 L2091.9,1546.0 L2094.2,1536.9 L2096.5,1530.8 L2099.5,1526.2 L2102.6,1523.2 L2106.3,1520.9 L2110.1,1520.2 L2113.9,1520.9 L2117.7,1523.2 L2120.7,1524.0 L2123.8,1521.7 L2126.1,1520.9" stroke="#0000ff"/>
<path d="M266.8,1553.4 L268.9,1544.9 L273.2,1536.3 L277.4,1533.1 L281.7,1532.1 L286.0,1534.2 L290.3,1536.3 L294.5,1537.4 L298.8,1536.3 L303.1,1536.3 L307.4,1534.2 L311.6,1533.1 L314.8,1536.3 L318.0,1542.7 L322.3,1544.9 L328.7,1547.0 L335.1,1548.1 L341.5,1549.2 L347.9,1552.4 L354.4,1554.5 L360.8,1553.4 L365.0,1550.2 L368.2,1551.3 L371.5,1548.1 L374.7,1553.4 L378.9,1555.6 L382.1,1549.2 L386.4,1540.6 L390.7,1537.4 L395.0,1541.7 L399.2,1543.8 L403.5,1542.7 L407.8,1542.7 L412.1,1547.0 L416.3,1548.1 L420.6,1545.9 L424.9,1544.9 L429.1,1544.9 L433.4,1545.9 L437.7,1547.0 L442.0,1548.1 L446.2,1547.0 L450.5,1545.9 L454.8,1543.8 L459.1,1544.9 L463.3,1544.9 L467.6,1545.9 L471.9,1544.9 L476.2,1543.8 L480.4,1541.7 L484.7,1542.7 L489.0,1543.8 L493.2,1542.7 L497.5,1543.8 L501.8,1542.7 L506.1,1541.7 L510.3,1544.9 L514.6,1544.9 L518.9,1545.9 L523.2,1549.2 L526.4,1555.6 L529.9,1553.5 L532.9,1550.5 L536.7,1549.7 L540.5,1550.5 L544.3,1549.7 L548.0,1551.3 L550.3,1548.2 L552.6,1547.5 L555.6,1549.7 L558.7,1548.2 L561.7,1548.2 L564.7,1547.5 L567.7,1546.0 L570.8,1547.5 L573.8,1548.2 L576.8,1549.0 L579.1,1553.5 L580.6,1546.0 L582.9,1539.9 L585.9,1536.1 L589.0,1533.8 L591.2,1536.9 L594.3,1539.9 L597.3,1544.4 L600.3,1546.0 L602.6,1543.7 L604.9,1542.9 L607.9,1545.2 L611.0,1546.0 L614.7,1548.2 L618.5,1552.0 L622.3,1554.3 L626.1,1553.5 L629.1,1550.5 L631.4,1546.0 L634.4,1544.4 L637.5,1543.7 L640.5,1544.4 L643.5,1546.0 L645.8,1542.9 L648.8,1540.6 L651.1,1542.9 L652.6,1549.0 L654.9,1546.0 L657.9,1542.2 L661.7,1539.9 L665.5,1539.1 L669.3,1539.9 L673.1,1539.9 L676.1,1541.4 L679.2,1544.4 L683.0,1546.0 L686.7,1545.2 L690.5,1545.2 L693.6,1547.5 L696.6,1549.7 L699.6,1552.0 L702.7,1553.5 L705.7,1550.5 L709.5,1549.7 L712.5,1549.7 L715.5,1552.0 L718.6,1556.6 L721.6,1559.6 L724.6,1564.1 L728.4,1565.7 L732.2,1563.4 L736.8,1561.1 L741.3,1562.6 L745.9,1565.7 L748.9,1564.1 L751.9,1559.6 L755.0,1553.5 L757.2,1552.0 L759.5,1553.5 L762.5,1553.5 L766.3,1549.0 L770.1,1544.4 L774.7,1540.6 L779.2,1538.4 L783.8,1539.6 L788.3,1539.1 L791.3,1539.1 L795.1,1541.4 L798.9,1544.4 L802.7,1549.0 L806.5,1552.8 L811.0,1554.3 L815.6,1555.8 L820.1,1558.1 L824.7,1559.6 L830.7,1559.6 L836.8,1559.6 L841.4,1560.4 L844.4,1559.6 L846.7,1549.0 L848.2,1536.9 L848.8,1536.9 L851.1,1536.9 L853.3,1546.0 L855.6,1552.0 L857.9,1558.1 L860.2,1564.1 L864.7,1564.9 L869.3,1564.9 L873.8,1562.6 L877.6,1559.6 L880.6,1561.1 L883.7,1565.7 L887.4,1564.9 L890.5,1559.6 L893.5,1558.1 L897.3,1561.1 L901.1,1561.1 L905.6,1559.6 L908.7,1555.0 L912.5,1552.0 L915.5,1550.5 L918.5,1549.0 L920.8,1542.9 L923.1,1537.6 L925.3,1536.9 L927.6,1542.9 L929.9,1547.5 L932.9,1547.5 L936.0,1552.0 L939.0,1556.6 L942.0,1561.1 L945.0,1564.1 L948.1,1559.6 L951.1,1553.5 L954.1,1549.0 L957.2,1544.4 L960.2,1539.9 L964.0,1536.9 L967.8,1534.6 L971.6,1534.6 L975.4,1536.1 L979.2,1537.6 L982.9,1538.4 L986.7,1537.6 L990.5,1535.3 L994.3,1527.8 L996.6,1524.7 L998.9,1525.5 L1001.1,1530.8 L1004.2,1536.9 L1008.0,1538.4 L1011.7,1539.1 L1016.3,1539.1 L1020.8,1537.6 L1025.4,1537.6 L1029.9,1535.3 L1033.7,1529.3 L1036.8,1523.2 L1039.0,1522.5 L1041.3,1527.8 L1043.6,1535.3 L1046.6,1538.4 L1050.4,1539.9 L1054.2,1542.9 L1058.7,1546.0 L1063.3,1547.5 L1067.1,1547.5 L1070.9,1546.0 L1073.1,1547.5 L1075.4,1552.0 L1077.7,1549.0 L1080.0,1543.7 L1082.2,1544.4 L1084.5,1552.0 L1087.5,1553.5 L1091.3,1552.8 L1095.1,1553.5 L1099.7,1555.0 L1104.2,1556.6 L1108.8,1557.3 L1113.3,1558.1 L1117.9,1561.1 L1122.4,1564.9 L1126.9,1564.9 L1130.0,1561.1 L1133.0,1564.9 L1137.6,1564.9 L1140.6,1561.1 L1144.4,1556.6 L1148.2,1555.0 L1152.7,1554.3 L1157.3,1555.0 L1161.8,1555.0 L1166.4,1556.6 L1170.9,1558.1 L1173.0,1555.0 L1176.1,1552.0 L1180.6,1549.0 L1185.2,1546.0 L1188.2,1545.2 L1191.2,1546.7 L1195.0,1549.0 L1198.8,1548.2 L1202.6,1547.5 L1204.9,1542.9 L1207.1,1542.2 L1209.4,1547.5 L1213.2,1550.5 L1217.0,1551.3 L1220.8,1550.5 L1222.3,1555.0 L1226.1,1556.6 L1230.6,1555.8 L1235.2,1555.8 L1239.7,1557.3 L1244.3,1558.1 L1248.8,1558.1 L1253.4,1556.6 L1257.9,1555.8 L1262.5,1554.3 L1267.0,1558.1 L1271.6,1561.1 L1276.1,1562.6 L1280.7,1563.4 L1285.2,1562.6 L1289.8,1561.1 L1294.3,1555.0 L1298.8,1550.5 L1303.4,1549.0 L1307.2,1551.3 L1310.2,1552.0 L1312.5,1539.9 L1314.8,1530.8 L1317.8,1529.3 L1320.1,1533.8 L1323.1,1536.1 L1326.9,1537.6 L1330.7,1539.1 L1334.5,1542.9 L1338.3,1546.7 L1342.8,1549.0 L1347.4,1553.5 L1351.9,1555.8 L1354.9,1558.1 L1358.0,1561.1 L1361.0,1563.4 L1364.8,1559.6 L1368.6,1555.8 L1371.6,1553.5 L1373.9,1559.6 L1376.9,1561.1 L1379.9,1559.6 L1382.2,1562.6 L1385.2,1566.4 L1387.5,1566.4 L1389.8,1559.6 L1392.8,1555.0 L1397.4,1552.0 L1401.9,1552.0 L1406.5,1550.5 L1411.0,1549.0 L1415.6,1547.5 L1420.1,1546.0 L1424.7,1545.2 L1429.2,1544.4 L1433.8,1542.9 L1438.3,1542.9 L1442.9,1542.2 L1447.4,1542.9 L1451.9,1542.2 L1456.5,1540.6 L1461.0,1540.6 L1464.8,1539.9 L1468.6,1541.4 L1471.7,1536.9 L1473.9,1533.1 L1478.5,1533.1 L1480.7,1539.9 L1483.0,1544.4 L1486.8,1546.0 L1491.4,1545.2 L1495.9,1544.4 L1499.1,1547.5 L1503.6,1549.7 L1508.2,1549.0 L1512.7,1549.7 L1517.3,1550.5 L1521.8,1552.8 L1525.6,1553.5 L1527.9,1559.6 L1530.9,1564.1 L1534.0,1553.5 L1537.0,1549.7 L1540.0,1552.0 L1542.3,1555.0 L1544.6,1561.1 L1548.4,1564.9 L1552.1,1564.1 L1556.7,1559.6 L1561.2,1555.0 L1565.8,1552.0 L1570.3,1549.7 L1574.9,1549.0 L1579.4,1548.2 L1584.0,1548.2 L1588.5,1550.5 L1593.1,1552.0 L1597.6,1549.0 L1599.9,1539.9 L1602.2,1535.3 L1604.4,1539.9 L1606.7,1549.0 L1609.8,1553.5 L1613.5,1552.0 L1617.3,1550.5 L1621.1,1552.0 L1624.9,1554.3 L1628.7,1556.6 L1632.5,1555.8 L1636.3,1553.5 L1640.1,1552.8 L1643.9,1555.0 L1647.6,1556.6 L1650.7,1564.1 L1653.0,1561.1 L1654.5,1542.9 L1656.7,1533.8 L1659.0,1536.9 L1661.3,1542.9 L1664.3,1541.4 L1668.1,1542.9 L1671.9,1546.0 L1674.9,1552.0 L1678.0,1558.1 L1681.8,1559.6 L1685.5,1561.1 L1690.1,1563.4 L1693.1,1558.1 L1695.4,1546.0 L1698.4,1538.4 L1702.2,1535.3 L1706.0,1530.8 L1709.8,1529.3 L1714.3,1527.8 L1718.9,1526.2 L1721.9,1527.8 L1724.2,1539.9 L1726.5,1536.9 L1728.7,1527.8 L1731.0,1530.8 L1732.5,1546.0 L1734.1,1561.1 L1736.3,1564.9 L1740.1,1562.6 L1743.9,1559.6 L1747.7,1555.0 L1751.5,1552.0 L1755.3,1552.0 L1759.8,1553.5 L1764.4,1554.3 L1768.9,1552.0 L1773.5,1551.3 L1778.0,1551.3 L1782.6,1552.0 L1787.1,1554.3 L1791.7,1555.0 L1794.7,1552.0 L1797.0,1546.7 L1800.0,1547.5 L1803.8,1549.0 L1808.3,1549.0 L1812.9,1549.0 L1817.4,1548.2 L1819.1,1549.0 L1823.6,1550.5 L1828.2,1552.0 L1832.7,1548.2 L1837.3,1545.2 L1841.8,1542.9 L1846.4,1539.9 L1850.9,1538.4 L1854.7,1538.4 L1858.5,1539.9 L1862.3,1544.4 L1865.3,1543.7 L1868.4,1542.9 L1870.6,1547.5 L1872.9,1553.5 L1875.2,1561.1 L1878.2,1565.7 L1882.8,1566.4 L1887.3,1564.1 L1891.9,1561.1 L1894.9,1559.6 L1897.2,1549.0 L1898.7,1539.9 L1901.7,1539.9 L1904.0,1546.0 L1907.0,1547.5 L1910.0,1550.5 L1913.1,1555.0 L1916.1,1561.1 L1919.1,1565.7 L1922.9,1566.4 L1926.7,1564.1 L1931.3,1561.1 L1935.8,1559.6 L1940.4,1558.8 L1944.2,1558.1 L1947.2,1546.0 L1951.0,1544.4 L1954.0,1545.2 L1957.0,1542.2 L1960.8,1544.4 L1964.6,1547.5 L1968.4,1552.0 L1972.2,1556.6 L1976.0,1559.6 L1979.8,1556.6 L1984.3,1554.3 L1988.9,1552.0 L1992.7,1550.5 L1995.7,1549.0 L1999.5,1552.0 L2003.3,1553.5 L2005.5,1561.1 L2008.6,1565.7 L2012.4,1564.1 L2016.2,1558.1 L2019.9,1552.0 L2023.7,1546.0 L2027.5,1539.9 L2031.3,1536.9 L2035.1,1536.9 L2038.9,1536.1 L2042.7,1539.9 L2045.7,1541.4 L2048.7,1539.1 L2052.5,1540.6 L2056.3,1541.4 L2060.9,1540.6 L2064.7,1539.9 L2069.2,1541.4 L2073.8,1541.4 L2077.5,1543.7 L2081.3,1549.0 L2084.4,1542.9 L2086.6,1535.3 L2088.9,1535.3 L2091.2,1541.4 L2093.5,1544.4 L2097.3,1546.0 L2101.0,1547.5 L2104.8,1549.7 L2108.6,1552.8 L2112.4,1555.8 L2116.2,1555.0 L2120.7,1555.0 L2124.5,1555.8 L2126.1,1558.1" stroke="#ff0000"/>
<path d="M138.5,1558.8 L140.7,1544.9 L142.4,1480.8 L143.9,1427.4 L145.4,1416.7 L147.1,1416.7 L148.8,1438.0 L150.3,1395.3 L151.4,1367.5 L153.1,1365.4 L153.9,1395.3 L155.2,1416.7 L156.1,1459.4 L156.7,1495.7 L158.2,1495.7 L159.5,1459.4 L161.0,1445.5 L162.5,1459.4 L163.1,1502.1 L164.2,1532.1 L167.4,1533.1 L169.5,1529.9 L172.7,1519.2 L179.1,1497.9 L185.6,1478.6 L192.0,1459.4 L195.2,1450.9 L197.3,1448.7 L197.9,1480.8 L198.4,1519.2 L200.5,1521.4 L201.6,1544.9 L203.7,1555.6 L206.9,1556.6 L209.1,1554.5 L211.2,1558.8 L214.4,1553.4 L219.7,1542.7 L225.1,1532.1 L228.7,1523.5 L231.5,1527.8 L234.7,1529.9 L236.8,1544.9 L237.9,1553.4 L240.0,1555.6 L241.1,1562.0 L243.2,1564.1 L244.3,1536.3 L246.5,1532.1 L247.5,1549.2 L249.2,1564.1 L250.7,1544.9 L251.8,1531.0 L253.9,1536.3 L256.1,1549.2 L258.2,1562.0 L261.4,1566.2 L263.5,1564.1 L266.8,1555.6 L271.0,1544.9 L275.3,1542.7 L279.6,1539.5 L283.8,1542.7 L288.1,1544.9 L292.4,1542.7 L296.7,1544.9 L300.9,1542.7 L305.2,1543.8 L309.5,1540.6 L312.7,1542.7 L315.9,1549.2 L319.1,1557.7 L322.3,1553.4 L326.6,1555.6 L330.9,1553.4 L335.1,1554.5 L339.4,1553.4 L343.7,1555.6 L347.9,1556.6 L352.2,1558.8 L356.5,1555.6 L360.8,1553.4 L365.0,1556.6 L368.2,1553.4 L370.4,1549.2 L372.5,1555.6 L374.7,1564.1 L377.9,1566.2 L381.1,1565.2 L384.3,1559.8 L388.5,1553.4 L392.8,1552.4 L397.1,1553.4 L401.4,1555.6 L405.6,1552.4 L409.9,1553.4 L414.2,1551.3 L418.5,1550.2 L422.7,1551.3 L427.0,1549.2 L431.3,1550.2 L435.6,1551.3 L439.8,1552.4 L444.1,1553.4 L448.4,1553.4 L452.6,1551.3 L456.9,1549.2 L461.2,1550.2 L465.5,1550.2 L469.7,1549.2 L474.0,1549.2 L478.3,1548.1 L482.6,1547.0 L486.8,1548.1 L491.1,1549.2 L495.4,1548.1 L499.7,1549.2 L503.9,1547.0 L508.2,1547.0 L512.5,1548.1 L515.7,1547.0 L518.9,1553.4 L522.1,1559.8 L525.3,1564.1 L529.1,1561.1 L532.1,1562.6 L535.2,1564.1 L539.7,1564.9 L544.3,1564.9 L547.3,1563.4 L550.3,1559.6 L552.6,1559.6 L554.9,1564.1 L557.9,1561.1 L560.9,1558.1 L563.2,1560.4 L565.5,1555.8 L568.5,1552.8 L571.5,1553.5 L574.6,1555.0 L577.6,1559.6 L579.9,1564.9 L582.1,1564.1 L584.4,1555.0 L587.5,1553.5 L589.7,1556.6 L592.8,1558.1 L595.8,1556.6 L598.8,1555.0 L601.9,1553.5 L604.9,1552.8 L607.9,1553.5 L611.0,1554.3 L614.7,1555.8 L618.5,1558.1 L623.1,1561.1 L627.6,1560.4 L630.7,1556.6 L633.7,1550.5 L636.7,1549.0 L639.8,1549.7 L642.0,1555.0 L644.3,1558.1 L646.6,1549.0 L648.8,1545.2 L651.1,1549.0 L653.4,1561.1 L655.7,1564.9 L657.9,1563.4 L660.2,1559.6 L664.0,1556.6 L668.6,1555.0 L673.1,1554.3 L677.6,1555.0 L682.2,1554.3 L686.7,1553.5 L691.3,1553.2 L694.3,1555.0 L697.4,1561.1 L699.6,1565.7 L701.9,1558.1 L704.2,1561.1 L707.2,1564.9 L710.2,1562.6 L714.0,1560.4 L718.6,1559.6 L723.1,1558.1 L727.7,1556.6 L732.2,1554.3 L735.2,1553.5 L738.3,1554.3 L742.1,1555.8 L745.9,1559.6 L748.9,1564.1 L751.2,1564.9 L754.2,1559.6 L757.2,1555.8 L759.5,1559.6 L762.5,1558.1 L766.3,1553.5 L770.1,1549.7 L774.7,1546.7 L779.2,1546.0 L783.8,1547.5 L788.3,1546.7 L791.3,1546.0 L795.1,1549.0 L798.9,1552.8 L803.5,1555.8 L808.0,1558.1 L812.6,1559.6 L817.1,1561.9 L821.7,1563.4 L826.2,1564.1 L830.7,1564.4 L835.3,1564.4 L839.8,1564.9 L843.6,1564.1 L845.9,1558.1 L848.2,1546.0 L849.5,1546.0 L851.8,1549.0 L854.1,1558.1 L857.1,1561.1 L860.2,1561.9 L863.9,1561.1 L867.7,1559.6 L871.5,1556.6 L874.6,1552.0 L877.6,1550.5 L879.9,1549.0 L882.1,1553.5 L885.2,1559.6 L889.0,1561.9 L893.5,1562.6 L898.1,1561.9 L902.6,1561.9 L906.4,1562.6 L909.4,1559.6 L912.5,1556.6 L915.5,1555.0 L917.8,1553.5 L920.0,1559.6 L921.5,1561.1 L923.1,1549.0 L924.6,1544.4 L926.1,1546.0 L927.6,1553.5 L929.9,1558.1 L932.9,1561.1 L936.0,1563.4 L939.0,1561.1 L942.0,1556.6 L945.8,1552.0 L949.6,1548.2 L954.1,1546.0 L958.7,1542.9 L963.2,1540.6 L967.8,1539.1 L970.8,1539.9 L973.8,1544.4 L978.4,1545.2 L982.9,1546.0 L987.5,1544.4 L992.0,1544.4 L995.1,1536.9 L997.3,1532.3 L999.6,1533.1 L1001.9,1539.9 L1004.9,1545.2 L1008.7,1546.0 L1013.3,1545.2 L1017.8,1545.2 L1022.4,1544.4 L1026.9,1543.7 L1031.4,1542.2 L1035.2,1535.3 L1038.3,1533.1 L1040.5,1536.9 L1042.8,1546.0 L1045.1,1552.0 L1048.9,1554.3 L1052.7,1555.8 L1057.2,1555.0 L1061.8,1555.8 L1066.3,1555.0 L1070.9,1552.8 L1073.9,1555.0 L1076.9,1558.1 L1079.2,1553.5 L1081.5,1555.0 L1084.5,1561.1 L1087.5,1564.1 L1092.1,1564.9 L1096.6,1563.4 L1101.2,1563.4 L1105.7,1563.4 L1110.3,1562.6 L1114.8,1561.1 L1119.4,1559.6 L1123.9,1556.6 L1126.9,1552.0 L1129.2,1542.2 L1131.5,1541.4 L1133.0,1552.0 L1135.3,1556.6 L1138.3,1558.1 L1140.6,1564.1 L1143.6,1564.1 L1146.7,1561.1 L1149.7,1559.6 L1154.2,1558.8 L1158.8,1559.6 L1163.3,1560.4 L1167.9,1562.6 L1172.4,1563.4 L1173.0,1558.1 L1176.1,1555.0 L1179.1,1553.5 L1182.1,1558.1 L1185.2,1564.1 L1189.7,1563.4 L1194.3,1562.6 L1198.8,1559.6 L1202.6,1556.6 L1205.6,1553.5 L1208.7,1555.8 L1212.4,1558.1 L1216.2,1558.1 L1219.3,1556.6 L1222.3,1561.1 L1226.1,1560.4 L1230.6,1558.8 L1235.2,1558.8 L1239.7,1559.6 L1244.3,1561.1 L1248.8,1561.1 L1253.4,1559.6 L1257.2,1557.3 L1261.0,1555.0 L1263.2,1554.3 L1266.3,1556.6 L1270.0,1558.8 L1274.6,1560.4 L1279.1,1561.1 L1283.7,1561.9 L1288.2,1561.9 L1292.8,1561.1 L1295.8,1558.1 L1298.8,1555.0 L1302.6,1553.5 L1305.7,1556.6 L1308.7,1559.6 L1311.7,1558.1 L1314.0,1549.0 L1316.3,1542.2 L1318.6,1542.2 L1320.8,1549.0 L1323.9,1553.5 L1327.6,1555.0 L1332.2,1556.6 L1336.7,1558.8 L1341.3,1560.4 L1344.3,1564.1 L1347.4,1564.9 L1351.9,1563.4 L1355.7,1561.1 L1358.0,1556.6 L1361.8,1553.5 L1365.5,1549.7 L1369.3,1546.0 L1373.1,1542.2 L1376.2,1541.4 L1377.7,1546.0 L1379.9,1552.0 L1382.2,1553.5 L1385.2,1556.6 L1388.3,1561.1 L1390.6,1559.6 L1394.3,1556.6 L1398.9,1555.0 L1403.4,1555.0 L1408.0,1554.3 L1412.5,1552.8 L1417.1,1551.3 L1421.6,1550.5 L1426.2,1549.7 L1430.7,1550.5 L1435.3,1549.0 L1439.8,1548.2 L1444.4,1549.0 L1448.9,1548.2 L1453.5,1547.5 L1458.0,1546.7 L1462.6,1546.0 L1465.6,1547.5 L1467.9,1553.5 L1470.9,1553.5 L1473.2,1546.0 L1475.4,1542.2 L1478.5,1544.4 L1481.5,1552.0 L1485.3,1558.1 L1489.8,1559.6 L1494.4,1558.1 L1499.1,1559.6 L1503.6,1561.9 L1508.2,1558.1 L1512.7,1556.6 L1517.3,1556.6 L1521.8,1558.1 L1525.6,1559.6 L1528.7,1564.1 L1531.7,1555.0 L1534.0,1551.3 L1536.2,1553.5 L1538.5,1561.1 L1542.3,1558.1 L1546.1,1555.0 L1549.9,1555.0 L1552.9,1559.6 L1555.9,1563.4 L1559.7,1564.9 L1563.5,1561.1 L1567.3,1558.1 L1571.9,1556.6 L1576.4,1555.0 L1581.0,1553.5 L1585.5,1553.5 L1590.0,1555.8 L1594.6,1556.6 L1598.4,1555.0 L1600.7,1544.4 L1602.9,1541.4 L1605.2,1549.0 L1607.5,1559.6 L1611.3,1562.6 L1615.1,1564.1 L1618.8,1561.1 L1623.4,1561.9 L1627.9,1564.9 L1632.5,1564.1 L1636.3,1561.1 L1640.1,1561.1 L1644.6,1561.9 L1648.4,1561.1 L1651.4,1558.1 L1653.7,1549.0 L1656.0,1541.4 L1658.3,1541.4 L1659.8,1549.0 L1662.0,1561.1 L1664.3,1555.0 L1668.1,1554.3 L1671.9,1556.6 L1675.7,1562.6 L1678.7,1565.7 L1682.5,1561.1 L1686.3,1558.8 L1690.1,1556.6 L1693.1,1549.0 L1696.2,1541.4 L1699.9,1538.4 L1703.7,1536.9 L1707.5,1533.8 L1711.3,1530.8 L1715.9,1530.0 L1719.6,1529.3 L1721.9,1535.3 L1723.4,1549.0 L1725.7,1539.9 L1728.0,1533.8 L1730.3,1536.9 L1731.8,1552.0 L1734.1,1559.6 L1738.6,1558.1 L1742.4,1555.0 L1746.2,1549.0 L1750.0,1546.7 L1753.8,1546.0 L1758.3,1547.5 L1762.1,1550.5 L1765.1,1549.0 L1768.2,1546.7 L1771.2,1549.0 L1775.0,1552.0 L1779.5,1553.5 L1784.1,1555.0 L1788.6,1556.6 L1792.4,1558.1 L1794.7,1564.1 L1796.2,1549.0 L1798.5,1546.7 L1800.7,1552.0 L1804.5,1555.0 L1808.3,1556.6 L1812.9,1555.8 L1817.4,1554.3 L1819.1,1555.0 L1823.6,1558.1 L1828.2,1556.6 L1832.7,1555.0 L1837.3,1552.0 L1841.8,1549.7 L1846.4,1547.5 L1850.9,1546.0 L1854.7,1545.2 L1858.5,1547.5 L1862.3,1552.0 L1865.3,1550.5 L1868.4,1549.7 L1870.6,1555.0 L1872.9,1561.1 L1874.4,1565.7 L1877.5,1561.1 L1881.2,1559.6 L1885.0,1560.4 L1888.8,1561.9 L1892.6,1562.6 L1895.6,1558.1 L1897.9,1550.5 L1900.2,1544.4 L1902.5,1546.0 L1904.7,1552.0 L1908.5,1552.0 L1911.6,1558.1 L1914.6,1565.7 L1917.6,1561.9 L1920.7,1558.1 L1925.2,1555.0 L1929.8,1553.5 L1934.3,1553.5 L1938.8,1552.8 L1943.4,1550.5 L1946.4,1552.0 L1948.7,1564.1 L1951.0,1561.1 L1953.2,1553.5 L1956.3,1549.7 L1959.3,1552.0 L1963.1,1555.0 L1967.6,1558.1 L1972.2,1561.1 L1976.7,1564.9 L1981.3,1561.1 L1985.8,1558.1 L1990.4,1556.6 L1994.9,1554.3 L1998.0,1561.1 L1999.5,1564.9 L2001.8,1558.1 L2004.0,1556.6 L2006.3,1562.6 L2009.3,1559.6 L2012.4,1555.0 L2016.2,1550.5 L2019.9,1546.0 L2023.7,1542.9 L2027.5,1539.9 L2031.3,1539.1 L2035.1,1538.4 L2037.4,1539.9 L2040.4,1546.0 L2042.7,1552.0 L2045.0,1547.5 L2048.0,1542.9 L2052.5,1544.4 L2057.1,1546.0 L2061.6,1545.2 L2066.2,1545.2 L2070.7,1546.0 L2075.3,1547.5 L2079.1,1553.5 L2082.1,1553.5 L2085.1,1547.5 L2087.4,1542.9 L2089.7,1544.4 L2091.9,1552.0 L2095.0,1558.1 L2099.5,1559.6 L2104.1,1561.9 L2108.6,1564.1 L2113.2,1564.9 L2117.7,1563.4 L2122.3,1562.6 L2126.1,1563.4" stroke="#00ff00"/>
</g>
<text class="tk" x="138.8" y="1627.5" text-anchor="middle">0</text>
<text class="tk" x="337.3" y="1627.5" text-anchor="middle">200</text>
<text class="tk" x="535.9" y="1627.5" text-anchor="middle">400</text>
<text class="tk" x="734.4" y="1627.5" text-anchor="middle">600</text>
<text class="tk" x="933.0" y="1627.5" text-anchor="middle">800</text>
<text class="tk" x="1131.5" y="1627.5" text-anchor="middle">1000</text>
<text class="tk" x="1330.0" y="1627.5" text-anchor="middle">1200</text>
<text class="tk" x="1528.6" y="1627.5" text-anchor="middle">1400</text>
<text class="tk" x="1727.1" y="1627.5" text-anchor="middle">1600</text>
<text class="tk" x="1925.7" y="1627.5" text-anchor="middle">1800</text>
<text class="tk" x="2124.2" y="1627.5" text-anchor="middle">2000</text>
<text class="tk" x="122.8" y="1226.1" text-anchor="end">3</text>
<text class="tk" x="122.8" y="1345.1" text-anchor="end">2</text>
<text class="tk" x="122.8" y="1464.1" text-anchor="end">1</text>
<text class="tk" x="122.8" y="1583.1" text-anchor="end">0</text>
<text class="lb" x="1132.5" y="1691.9" text-anchor="middle">Time (sec)</text>
<text class="lb" transform="translate(72.5,1387.0) rotate(-90)" text-anchor="middle">Yaw (deg)</text>
<rect x="1297.8" y="17.0" width="814.9" height="181.9" fill="#fff" stroke="#262626" stroke-width="4.20"/>
<path d="M1313,52.0 H1468" stroke="#0000ff" stroke-width="6.25"/>
<text class="lg" x="1480" y="68.0">Uncompensated</text>
<path d="M1313,108.0 H1468" stroke="#ff0000" stroke-width="6.25"/>
<text class="lg" x="1480" y="124.0">Weighted recursive least squares</text>
<path d="M1313,164.0 H1468" stroke="#00ff00" stroke-width="6.25"/>
<text class="lg" x="1480" y="180.0">Proposed method</text>
</svg></body></html>
